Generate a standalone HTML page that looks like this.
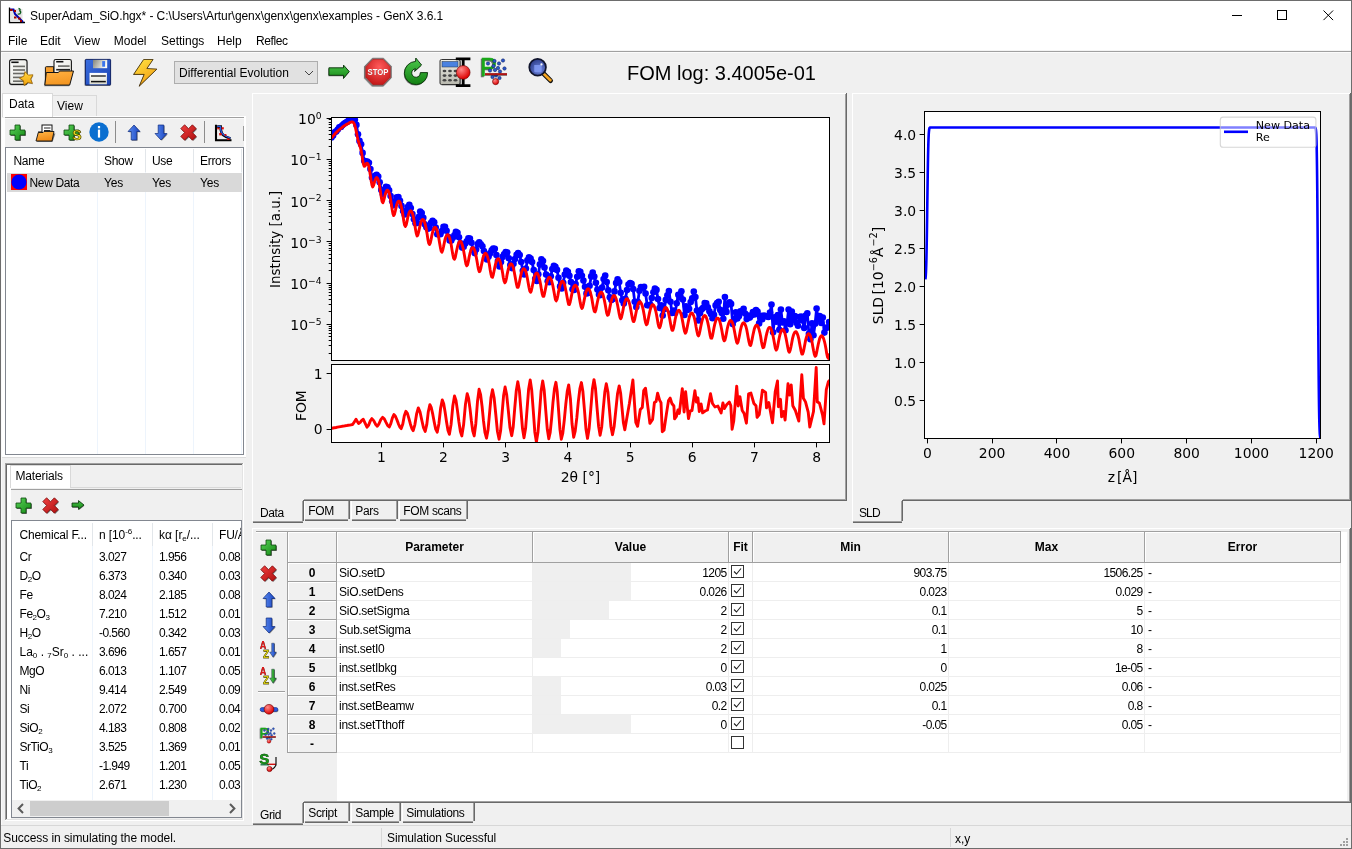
<!DOCTYPE html>
<html><head><meta charset="utf-8"><title>GenX</title><style>
html,body{margin:0;padding:0}
body{width:1352px;height:849px;overflow:hidden;background:#f0f0f0;position:relative;font-family:"Liberation Sans",sans-serif;font-size:12px;color:#000}
.t{position:absolute;white-space:pre}
.b{font-weight:bold}
.r{text-align:right}
.c{text-align:center}
.plot,.ic{position:absolute}
svg{overflow:visible}

sub{font-size:8px;position:relative;top:2px;vertical-align:baseline;line-height:0}
sup{font-size:8px;position:relative;top:-1px;vertical-align:baseline;line-height:0}
sup{top:-5px}
</style></head><body>
<div class="" style="position:absolute;left:0px;top:0px;width:1352px;height:849px;background:#f0f0f0"></div>
<div class="" style="position:absolute;left:1px;top:1px;width:1350px;height:30px;background:#fff"></div>
<div class="" style="position:absolute;left:1px;top:31px;width:1350px;height:20px;background:#fff"></div>
<div class="" style="position:absolute;left:1px;top:50px;width:1350px;height:1px;background:#f4f4f4"></div>
<div class="" style="position:absolute;left:1px;top:51px;width:1350px;height:1px;background:#a0a0a0"></div>
<div class="" style="position:absolute;left:1px;top:52px;width:1350px;height:1px;background:#fbfbfb"></div>
<svg class="ic" style="left:7px;top:7px" width="20" height="17" viewBox="0 0 20 17"><path d="M2.5,0.5 V15.5 H18" fill="none" stroke="#000" stroke-width="1.3"/><rect x="3.5" y="2" width="12" height="13" fill="#e4e4e4"/><path d="M3,2.5 H6.5 L8,7 L16,15" fill="none" stroke="#0000b0" stroke-width="2"/><g fill="#a00000"><rect x="3" y="2" width="2.5" height="2"/><rect x="7" y="3" width="2" height="2"/><rect x="7" y="9.5" width="2.5" height="2"/><rect x="11" y="10.5" width="2.5" height="2"/><rect x="13" y="13" width="2" height="2"/></g><path d="M11.5,1.5 q2.5,0.5 1.2,2.3 q2,1 0.2,3 l-2.2,0.4" fill="none" stroke="#0a5a1a" stroke-width="1.3"/></svg>
<div class="t " style="left:30.0px;top:10.14px;font-size:12px;line-height:12px;letter-spacing:-0.07px">SuperAdam_SiO.hgx* - C:\Users\Artur\genx\genx\genx\examples - GenX 3.6.1</div>
<svg class="ic" style="left:1220px;top:1px" width="131" height="30" viewBox="1220 1 131 30"><g stroke="#000" stroke-width="1" fill="none"><path d="M1232,15.5h10"/><rect x="1277.5" y="10.5" width="9" height="9"/><path d="M1323.5,10.5l9.6,9.6M1333.1,10.5l-9.6,9.6"/></g></svg>
<div class="t " style="left:8.0px;top:35.14px;font-size:12px;line-height:12px;">File</div>
<div class="t " style="left:40.0px;top:35.14px;font-size:12px;line-height:12px;">Edit</div>
<div class="t " style="left:74.0px;top:35.14px;font-size:12px;line-height:12px;">View</div>
<div class="t " style="left:113.8px;top:35.14px;font-size:12px;line-height:12px;">Model</div>
<div class="t " style="left:161.0px;top:35.14px;font-size:12px;line-height:12px;">Settings</div>
<div class="t " style="left:217.0px;top:35.14px;font-size:12px;line-height:12px;">Help</div>
<div class="t " style="left:256.0px;top:35.14px;font-size:12px;line-height:12px;letter-spacing:-0.4px">Reflec</div>
<svg class="ic" style="left:8px;top:58px" width="28" height="30" viewBox="0 0 28 30"><defs><linearGradient id="g1" x1="0" y1="0" x2="1" y2="1"><stop offset="0" stop-color="#ffffff"/><stop offset="1" stop-color="#dfe0d8"/></linearGradient><linearGradient id="g2" x1="0" y1="0" x2="0" y2="1"><stop offset="0" stop-color="#ffd640"/><stop offset="1" stop-color="#f2a20c"/></linearGradient></defs><rect x="1.2" y="2" width="18.4" height="25.6" rx="2.4" fill="#000" opacity="0.28"/><rect x="1.6" y="1.6" width="17.4" height="24.8" rx="2.2" fill="url(#g1)" stroke="#161616" stroke-width="1.1"/><path d="M3.3,4.3 H10.6" stroke="#111" stroke-width="1.6"/><path d="M5,8.4 H17" stroke="#6a6a66" stroke-width="1.6"/><path d="M5,12 H17" stroke="#6a6a66" stroke-width="1.6"/><path d="M5,15.5 H17" stroke="#6a6a66" stroke-width="1.6"/><path d="M5,19.4 H17" stroke="#6a6a66" stroke-width="1.6"/><path d="M5,23.2 H17" stroke="#6a6a66" stroke-width="1.6"/><polygon points="17.03,13.62 20.26,17.08 24.99,16.83 22.69,20.97 24.39,25.39 19.74,24.48 16.07,27.47 15.49,22.77 11.52,20.19 15.81,18.19" fill="#000" opacity="0.35" transform="translate(0.5,0.9)"/><polygon points="17.03,13.62 20.26,17.08 24.99,16.83 22.69,20.97 24.39,25.39 19.74,24.48 16.07,27.47 15.49,22.77 11.52,20.19 15.81,18.19" fill="url(#g2)" stroke="#9a6200" stroke-width="0.8" stroke-linejoin="round"/></svg>
<svg class="ic" style="left:43px;top:58px" width="33" height="30" viewBox="0 0 33 30"><defs><linearGradient id="g3" x1="0.3" y1="0" x2="0.6" y2="1"><stop offset="0" stop-color="#ffb040"/><stop offset="1" stop-color="#f29420"/></linearGradient><linearGradient id="g4" x1="0" y1="0" x2="1" y2="1"><stop offset="0" stop-color="#ffffff"/><stop offset="1" stop-color="#e6e6de"/></linearGradient><linearGradient id="g5" x1="0" y1="0" x2="0" y2="1"><stop offset="0" stop-color="#f8a030"/><stop offset="1" stop-color="#e88a18"/></linearGradient></defs><path d="M1.8,27.1 L3.3,14.5 H15.4 L16.6,13 H30.5 L26.7,27.1 z" fill="#000" opacity="0.4" transform="translate(-0.6,1.1)"/><path d="M2.4,26 V9.6 Q2.4,8.7 3.3,8.7 H10.7 V16 z" fill="url(#g5)" stroke="#141414" stroke-width="1"/><rect x="11" y="1.5" width="17.4" height="14" rx="1.8" fill="url(#g4)" stroke="#161616" stroke-width="1.1"/><path d="M13.2,3.7 H20.4" stroke="#111" stroke-width="1.6"/><path d="M15,8.1 H26.6" stroke="#6a6a66" stroke-width="1.6"/><path d="M13.2,11.7 H27" stroke="#222" stroke-width="1.6"/><path d="M1.8,27.1 L3.3,14.5 H15.4 L16.6,13 H30.5 L26.7,27.1 z" fill="url(#g3)" stroke="#141414" stroke-width="1" stroke-linejoin="round"/></svg>
<svg class="ic" style="left:84px;top:58px" width="29" height="29" viewBox="0 0 29 29"><defs><linearGradient id="g6" x1="0" y1="0" x2="1" y2="1"><stop offset="0" stop-color="#3a6ee0"/><stop offset="1" stop-color="#1c44b4"/></linearGradient><linearGradient id="g7" x1="0" y1="0" x2="1" y2="0.3"><stop offset="0" stop-color="#84847a"/><stop offset="1" stop-color="#fafaf6"/></linearGradient><linearGradient id="g8" x1="0" y1="0" x2="0" y2="1"><stop offset="0" stop-color="#ffffff"/><stop offset="1" stop-color="#dcdcd0"/></linearGradient></defs><rect x="0.6" y="1.6" width="26" height="26.4" rx="0.8" fill="#000" opacity="0.45"/><rect x="1.4" y="1.4" width="25.2" height="25.6" rx="0.7" fill="url(#g6)" stroke="#0a1c5c" stroke-width="0.9"/><rect x="9" y="1.9" width="14.2" height="8.3" fill="url(#g7)"/><rect x="18.2" y="3.1" width="2.9" height="5.6" fill="#3a74ec"/><rect x="5.5" y="14.9" width="17.4" height="11.4" fill="url(#g8)"/><path d="M7,18 H21.8" stroke="#333" stroke-width="1.5"/><path d="M7,23.6 H21.8" stroke="#111" stroke-width="1.5"/></svg>
<svg class="ic" style="left:131px;top:58px" width="28" height="30" viewBox="0 0 28 30"><defs><linearGradient id="g9" x1="0.2" y1="0" x2="0.7" y2="1"><stop offset="0" stop-color="#ffe040"/><stop offset="1" stop-color="#f29a10"/></linearGradient></defs><path d="M12.6,1.5 H22.1 L15.9,10.5 L25.9,11.1 L8.2,28.2 L13.2,16.4 H2.6 z" fill="#000" opacity="0.5" transform="translate(-0.5,0.7)"/><path d="M12.6,1.5 H22.1 L15.9,10.5 L25.9,11.1 L8.2,28.2 L13.2,16.4 H2.6 z" fill="url(#g9)" stroke="#3a2600" stroke-width="0.8" stroke-linejoin="round"/></svg>
<div class="" style="position:absolute;left:174px;top:61px;width:144px;height:23px;background:#e1e1e1;border:1px solid #adadad;box-sizing:border-box"></div>
<div class="t " style="left:179.0px;top:67.14px;font-size:12px;line-height:12px;">Differential Evolution</div>
<svg class="ic" style="left:302px;top:67px" width="14" height="12" viewBox="0 0 14 12"><path d="M3,4 L7,8 L11,4" fill="none" stroke="#444" stroke-width="1"/></svg>
<svg class="ic" style="left:327px;top:62px" width="25" height="20" viewBox="0 0 25 20"><defs><linearGradient id="g10" x1="0" y1="0" x2="0" y2="1"><stop offset="0" stop-color="#44c044"/><stop offset="1" stop-color="#1a8a1a"/></linearGradient></defs><g transform="scale(1)"><path d="M1.9,5.8 H16.5 V3.1 L22.3,9.6 L16.5,16.4 V13.3 H1.9 z" fill="#000" opacity="0.5" transform="translate(-0.5,0.9)"/><path d="M1.9,5.8 H16.5 V3.1 L22.3,9.6 L16.5,16.4 V13.3 H1.9 z" fill="url(#g10)" stroke="#0a300a" stroke-width="0.9" stroke-linejoin="round"/></g></svg>
<svg class="ic" style="left:361.7px;top:56.1px" width="32" height="32" viewBox="0 0 32 32"><defs><radialGradient id="g11" cx="0.55" cy="0.3" r="0.75"><stop offset="0" stop-color="#ff5a5a"/><stop offset="1" stop-color="#c01414"/></radialGradient></defs><g transform="translate(16,16)"><polygon points="-5.63,-14.00 5.63,-14.00 13.60,-5.80 13.60,5.80 5.63,14.00 -5.63,14.00 -13.60,5.80 -13.60,-5.80" fill="#000" opacity="0.35" transform="translate(-0.5,0.8)"/><polygon points="-5.55,-13.80 5.55,-13.80 13.40,-5.71 13.40,5.71 5.55,13.80 -5.55,13.80 -13.40,5.71 -13.40,-5.71" fill="#8c8c8c" stroke="#5a5a5a" stroke-width="0.6"/><polygon points="-5.09,-12.70 5.09,-12.70 12.30,-5.26 12.30,5.26 5.09,12.70 -5.09,12.70 -12.30,5.26 -12.30,-5.26" fill="url(#g11)" stroke="#a01010" stroke-width="0.5"/><text x="0" y="3.4" text-anchor="middle" font-family="Liberation Sans, sans-serif" font-weight="bold" font-size="9.8" fill="#fff" textLength="21" lengthAdjust="spacingAndGlyphs" style="filter:drop-shadow(0.7px 0.6px 0 rgba(64,0,0,.6))">STOP</text></g></svg>
<svg class="ic" style="left:398.8px;top:56.1px" width="34" height="34" viewBox="0 0 34 34"><defs><linearGradient id="g12" x1="0" y1="0" x2="0" y2="1"><stop offset="0" stop-color="#4cc84c"/><stop offset="1" stop-color="#128012"/></linearGradient></defs><g transform="translate(17,17)"><path d="M11.6,-0.4 A11.6,11.6 0 1 1 -0.4,-11.59 L-0.2,-15 L5.6,-8 L-1.4,-1.6 L-0.5,-4.3 A4.3,4.3 0 1 0 4.3,-0.4 Z" fill="#000" opacity="0.5" transform="translate(-0.6,0.9)"/><path d="M11.6,-0.4 A11.6,11.6 0 1 1 -0.4,-11.59 L-0.2,-15 L5.6,-8 L-1.4,-1.6 L-0.5,-4.3 A4.3,4.3 0 1 0 4.3,-0.4 Z" fill="url(#g12)" stroke="#0a300a" stroke-width="0.9" stroke-linejoin="round"/></g></svg>
<svg class="ic" style="left:439px;top:56px" width="34" height="33" viewBox="0 0 34 33"><defs><radialGradient id="g13" cx="0.36" cy="0.3" r="0.7"><stop offset="0" stop-color="#ff8a8a"/><stop offset="1" stop-color="#dc0000"/></radialGradient><linearGradient id="g14" x1="0" y1="0" x2="0" y2="1"><stop offset="0" stop-color="#eeeee6"/><stop offset="1" stop-color="#b8b8ae"/></linearGradient></defs><rect x="2" y="4.5" width="20" height="25" rx="1.5" fill="#000" opacity="0.4"/><rect x="1" y="3.5" width="20" height="25" rx="1.5" fill="url(#g14)" stroke="#333" stroke-width="1"/><rect x="3" y="5.5" width="16" height="5.5" fill="#4a82e0" stroke="#234" stroke-width="0.5"/><ellipse cx="5.5" cy="15" rx="1.9" ry="1.3" fill="#444"/><ellipse cx="11" cy="15" rx="1.9" ry="1.3" fill="#444"/><ellipse cx="16.5" cy="15" rx="1.9" ry="1.3" fill="#444"/><ellipse cx="5.5" cy="19.6" rx="1.9" ry="1.3" fill="#444"/><ellipse cx="11" cy="19.6" rx="1.9" ry="1.3" fill="#444"/><ellipse cx="16.5" cy="19.6" rx="1.9" ry="1.3" fill="#444"/><ellipse cx="5.5" cy="24.2" rx="1.9" ry="1.3" fill="#444"/><ellipse cx="11" cy="24.2" rx="1.9" ry="1.3" fill="#444"/><ellipse cx="16.5" cy="24.2" rx="1.9" ry="1.3" fill="#444"/><path d="M16.8,2.8 H31.4 M16.8,29.6 H31.4 M24.2,2.8 V29.6" stroke="#000" stroke-width="2.8"/><circle cx="24.2" cy="16.4" r="6.9" fill="url(#g13)" stroke="#600" stroke-width="0.6"/></svg>
<svg class="ic" style="left:479px;top:56px" width="32" height="33" viewBox="0 0 32 33"><defs><radialGradient id="g15" cx="0.36" cy="0.3" r="0.7"><stop offset="0" stop-color="#ff8a8a"/><stop offset="1" stop-color="#dc0000"/></radialGradient></defs><g transform="scale(1)"><text x="0.9" y="19.6" font-family="Liberation Sans, sans-serif" font-size="25.5" fill="#1aa81a" stroke="#1aa81a" stroke-width="0.55" style="filter:drop-shadow(-0.9px 1px 0 rgba(0,0,0,.55))">P</text><circle cx="15.5" cy="5" r="1.7" fill="#2a56c8" stroke="#0c1c58" stroke-width="0.5"/><circle cx="20" cy="7.5" r="1.7" fill="#2a56c8" stroke="#0c1c58" stroke-width="0.5"/><circle cx="24" cy="4.5" r="1.7" fill="#2a56c8" stroke="#0c1c58" stroke-width="0.5"/><circle cx="9" cy="7.5" r="1.7" fill="#2a56c8" stroke="#0c1c58" stroke-width="0.5"/><circle cx="14.5" cy="10" r="1.7" fill="#2a56c8" stroke="#0c1c58" stroke-width="0.5"/><circle cx="19" cy="12" r="1.7" fill="#2a56c8" stroke="#0c1c58" stroke-width="0.5"/><circle cx="25.5" cy="12.5" r="1.7" fill="#2a56c8" stroke="#0c1c58" stroke-width="0.5"/><circle cx="11" cy="14.5" r="1.7" fill="#2a56c8" stroke="#0c1c58" stroke-width="0.5"/><circle cx="16" cy="14" r="1.7" fill="#2a56c8" stroke="#0c1c58" stroke-width="0.5"/><circle cx="21" cy="15.5" r="1.7" fill="#2a56c8" stroke="#0c1c58" stroke-width="0.5"/><circle cx="13.5" cy="21" r="1.7" fill="#2a56c8" stroke="#0c1c58" stroke-width="0.5"/><circle cx="20.5" cy="22" r="1.7" fill="#2a56c8" stroke="#0c1c58" stroke-width="0.5"/><circle cx="17" cy="19.5" r="1.7" fill="#2a56c8" stroke="#0c1c58" stroke-width="0.5"/><path d="M6,18.4 H28" stroke="#300" stroke-width="2.2"/><path d="M6,18.1 H28" stroke="#e01818" stroke-width="1.3"/><circle cx="16.6" cy="25.6" r="3.1" fill="url(#g15)" stroke="#600" stroke-width="0.6"/></g></svg>
<svg class="ic" style="left:526.3px;top:56.2px" width="27.52" height="27.52" viewBox="0 0 32 32"><defs><radialGradient id="g16" cx="0.6" cy="0.65" r="0.8"><stop offset="0" stop-color="#7088e0"/><stop offset="1" stop-color="#1e2c78"/></radialGradient></defs><path d="M19.5,19.5 L28.6,28.6" stroke="#111" stroke-width="5.6" stroke-linecap="round"/><path d="M20.5,20.5 L28.3,28.3" stroke="#f4a420" stroke-width="3.2" stroke-linecap="round"/><circle cx="13.5" cy="13" r="9.7" fill="url(#g16)" stroke="#10142c" stroke-width="2"/><path d="M9.6,10.6 h7.4 q1.2,0 1.2,1.2 v5.8 q0,1.2 -1.2,1.2 h-6.2 q-1.2,0 -1.2,-1.2 z" fill="#7f98f2" opacity="0.9"/><circle cx="18" cy="9.8" r="1.3" fill="#fff" opacity="0.95"/></svg>
<div class="t " style="left:627.0px;top:63.27px;font-size:20px;line-height:20px;">FOM log: 3.4005e-01</div>
<div class="" style="position:absolute;left:5px;top:116px;width:241px;height:1px;background:#fff"></div>
<div class="" style="position:absolute;left:5px;top:117px;width:239px;height:1px;background:#a0a0a0"></div>
<div class="" style="position:absolute;left:5px;top:118px;width:239px;height:1px;background:#fafafa"></div>
<div class="" style="position:absolute;left:244px;top:116px;width:2px;height:341px;background:#fff"></div>
<div class="" style="position:absolute;left:1px;top:455px;width:245px;height:2px;background:#fff"></div>
<div class="" style="position:absolute;left:1px;top:118px;width:4px;height:339px;background:#fff"></div>
<div class="" style="position:absolute;left:1px;top:457px;width:245px;height:1px;background:#dcdcdc"></div>
<div class="" style="position:absolute;left:1px;top:52px;width:1px;height:774px;background:#fafafa"></div>
<div class="" style="position:absolute;left:52px;top:95px;width:45px;height:21px;background:#f0f0f0;border:1px solid #d9d9d9;box-sizing:border-box;border-bottom:none"></div>
<div class="" style="position:absolute;left:2px;top:93px;width:51px;height:24px;background:#fff;border:1px solid #d9d9d9;border-bottom:none;box-sizing:border-box"></div>
<div class="t " style="left:9.0px;top:98.04px;font-size:12px;line-height:12px;">Data</div>
<div class="t " style="left:57.0px;top:99.54px;font-size:12px;line-height:12px;">View</div>
<svg class="ic" style="left:9px;top:124px" width="18" height="18" viewBox="0 0 18 18"><defs><linearGradient id="g17" x1="0" y1="0" x2="1" y2="1"><stop offset="0" stop-color="#58d058"/><stop offset="1" stop-color="#158a15"/></linearGradient></defs><path d="M6,1 H11 V6 H16 V11 H11 V16 H6 V11 H1 V6 H6 z" fill="#000" opacity="0.55" transform="translate(0.9,1)"/><path d="M6,1 H11 V6 H16 V11 H11 V16 H6 V11 H1 V6 H6 z" fill="url(#g17)" stroke="#0c4a0c" stroke-width="0.8" stroke-linejoin="round"/></svg>
<svg class="ic" style="left:35px;top:124px" width="21" height="19" viewBox="0 0 21 19"><defs><linearGradient id="g18" x1="0" y1="0" x2="0.3" y2="1"><stop offset="0" stop-color="#ffb648"/><stop offset="1" stop-color="#f08c18"/></linearGradient></defs><path d="M1.5,17.5 H17 L19.8,9 H7 V6.5 H2.5 z" fill="#000" opacity="0.5" transform="translate(0.6,0.6)"/><rect x="7" y="1" width="10" height="8" fill="#fff" stroke="#111" stroke-width="1"/><path d="M9,4 H15.5 M9,6.5 H15.5" stroke="#222" stroke-width="1"/><path d="M1,17 L3.3,8.5 H8 L9,7.5 H19 L17,17 z" fill="url(#g18)" stroke="#111" stroke-width="0.9" stroke-linejoin="round"/></svg>
<svg class="ic" style="left:63px;top:124px" width="19" height="18" viewBox="0 0 19 18"><defs><linearGradient id="g19" x1="0" y1="0" x2="1" y2="1"><stop offset="0" stop-color="#58d058"/><stop offset="1" stop-color="#158a15"/></linearGradient></defs><path d="M6,1 H11 V6 H16 V11 H11 V16 H6 V11 H1 V6 H6 z" fill="#000" opacity="0.55" transform="translate(0.9,1)"/><path d="M6,1 H11 V6 H16 V11 H11 V16 H6 V11 H1 V6 H6 z" fill="url(#g19)" stroke="#0c4a0c" stroke-width="0.8" stroke-linejoin="round"/><text x="9.3" y="15.8" font-family="Liberation Sans, sans-serif" font-weight="bold" font-size="14" fill="#f8e820" stroke="#4a4000" stroke-width="0.7">S</text></svg>
<svg class="ic" style="left:89px;top:122px" width="20" height="20" viewBox="0 0 20 20"><circle cx="10" cy="10" r="9.7" fill="#0b6fd0"/><rect x="8.9" y="7.6" width="2.2" height="8" fill="#fff"/><rect x="8.9" y="4" width="2.2" height="2.3" fill="#fff"/></svg>
<div class="" style="position:absolute;left:115px;top:121px;width:1px;height:22px;background:#8c8c8c"></div>
<svg class="ic" style="left:125px;top:124px" width="18" height="18" viewBox="0 0 18 18"><defs><linearGradient id="g20" x1="0" y1="0" x2="1" y2="0"><stop offset="0" stop-color="#5a8cf0"/><stop offset="1" stop-color="#1a44c0"/></linearGradient></defs><path d="M9,1 L15,7.5 H11.8 V16 H6.2 V7.5 H3 z" fill="#000" opacity="0.45" transform="translate(0.8,0.8)"/><path d="M9,1 L15,7.5 H11.8 V16 H6.2 V7.5 H3 z" fill="url(#g20)" stroke="#0c2a80" stroke-width="0.7" stroke-linejoin="round"/></svg>
<svg class="ic" style="left:152px;top:124px" width="18" height="18" viewBox="0 0 18 18"><defs><linearGradient id="g21" x1="0" y1="0" x2="1" y2="0"><stop offset="0" stop-color="#5a8cf0"/><stop offset="1" stop-color="#1a44c0"/></linearGradient></defs><path d="M9,16 L15,9.5 H11.8 V1 H6.2 V9.5 H3 z" fill="#000" opacity="0.45" transform="translate(0.8,0.8)"/><path d="M9,16 L15,9.5 H11.8 V1 H6.2 V9.5 H3 z" fill="url(#g21)" stroke="#0c2a80" stroke-width="0.7" stroke-linejoin="round"/></svg>
<svg class="ic" style="left:179.6px;top:124px" width="18" height="18" viewBox="0 0 18 18"><defs><linearGradient id="g22" x1="0" y1="0" x2="1" y2="1"><stop offset="0" stop-color="#f04040"/><stop offset="1" stop-color="#b01010"/></linearGradient></defs><path d="M4.6,0.8 L8.5,4.7 L12.4,0.8 L16.2,4.6 L12.3,8.5 L16.2,12.4 L12.4,16.2 L8.5,12.3 L4.6,16.2 L0.8,12.4 L4.7,8.5 L0.8,4.6 z" fill="#000" opacity="0.45" transform="translate(0.8,0.9)"/><path d="M4.6,0.8 L8.5,4.7 L12.4,0.8 L16.2,4.6 L12.3,8.5 L16.2,12.4 L12.4,16.2 L8.5,12.3 L4.6,16.2 L0.8,12.4 L4.7,8.5 L0.8,4.6 z" fill="url(#g22)" stroke="#7a0808" stroke-width="0.8" stroke-linejoin="round"/></svg>
<div class="" style="position:absolute;left:204px;top:121px;width:1px;height:22px;background:#8c8c8c"></div>
<svg class="ic" style="left:213px;top:123.3px" width="20" height="20" viewBox="0 0 20 20"><path d="M3,1.8 V17.2 H18.5" fill="none" stroke="#000" stroke-width="2.1"/><path d="M4.2,3.6 H7.6 Q7.6,10 10.5,12.2 T17.5,15.6" fill="none" stroke="#000" stroke-width="2.6"/><path d="M4.2,3.4 H7.4 Q7.6,9.6 10.6,11.8 T17.5,15.2" fill="none" stroke="#2a5ae0" stroke-width="1.4"/><g fill="#e01010"><rect x="4.2" y="4.6" width="2.2" height="1.8"/><rect x="8.6" y="4.2" width="2.2" height="2.2"/><rect x="6.2" y="10" width="2.4" height="2.4"/><rect x="11.6" y="11" width="1.8" height="1.8"/><rect x="14" y="15.4" width="2.6" height="1.6"/></g></svg>
<div class="" style="position:absolute;left:243px;top:126px;width:1px;height:15px;background:#9a9a9a"></div>
<div class="" style="position:absolute;left:5px;top:147px;width:239px;height:308px;background:#fff;border:1px solid #828790;box-sizing:border-box"></div>
<div class="" style="position:absolute;left:97px;top:149px;width:1px;height:305px;background:#edf4fc"></div>
<div class="" style="position:absolute;left:97px;top:149px;width:1px;height:23px;background:#e2e6ea"></div>
<div class="" style="position:absolute;left:145px;top:149px;width:1px;height:305px;background:#edf4fc"></div>
<div class="" style="position:absolute;left:145px;top:149px;width:1px;height:23px;background:#e2e6ea"></div>
<div class="" style="position:absolute;left:193px;top:149px;width:1px;height:305px;background:#edf4fc"></div>
<div class="" style="position:absolute;left:193px;top:149px;width:1px;height:23px;background:#e2e6ea"></div>
<div class="" style="position:absolute;left:241px;top:149px;width:1px;height:305px;background:#edf4fc"></div>
<div class="" style="position:absolute;left:241px;top:149px;width:1px;height:23px;background:#e2e6ea"></div>
<div class="" style="position:absolute;left:7px;top:173px;width:235px;height:19px;background:#d9d9d9"></div>
<div class="t " style="left:13.5px;top:154.64px;font-size:12px;line-height:12px;letter-spacing:-0.3px">Name</div>
<div class="t " style="left:104.0px;top:154.64px;font-size:12px;line-height:12px;letter-spacing:-0.3px">Show</div>
<div class="t " style="left:152.0px;top:154.64px;font-size:12px;line-height:12px;letter-spacing:-0.3px">Use</div>
<div class="t " style="left:200.0px;top:154.64px;font-size:12px;line-height:12px;letter-spacing:-0.3px">Errors</div>
<svg class="ic" style="left:11px;top:174px" width="16" height="16"><rect width="16" height="16" fill="#f00"/><circle cx="8" cy="8" r="7.6" fill="#00f"/></svg>
<div class="t " style="left:29.5px;top:177.24px;font-size:12px;line-height:12px;letter-spacing:-0.35px">New Data</div>
<div class="t " style="left:104.0px;top:177.24px;font-size:12px;line-height:12px;letter-spacing:-0.2px">Yes</div>
<div class="t " style="left:152.0px;top:177.24px;font-size:12px;line-height:12px;letter-spacing:-0.2px">Yes</div>
<div class="t " style="left:200.0px;top:177.24px;font-size:12px;line-height:12px;letter-spacing:-0.2px">Yes</div>
<div class="" style="position:absolute;left:5px;top:463px;width:239px;height:1px;background:#a0a0a0"></div>
<div class="" style="position:absolute;left:5px;top:464px;width:1px;height:357px;background:#a0a0a0"></div>
<div class="" style="position:absolute;left:6px;top:464px;width:237px;height:1px;background:#696969"></div>
<div class="" style="position:absolute;left:6px;top:465px;width:1px;height:355px;background:#696969"></div>
<div class="" style="position:absolute;left:243px;top:463px;width:1px;height:358px;background:#fff"></div>
<div class="" style="position:absolute;left:5px;top:820px;width:239px;height:1px;background:#fff"></div>
<div class="" style="position:absolute;left:242px;top:464px;width:1px;height:356px;background:#e3e3e3"></div>
<div class="" style="position:absolute;left:6px;top:819px;width:237px;height:1px;background:#e3e3e3"></div>
<div class="" style="position:absolute;left:7px;top:465px;width:4px;height:354px;background:#fff"></div>
<div class="" style="position:absolute;left:70px;top:487px;width:171px;height:1px;background:#d9d9d9"></div>
<div class="" style="position:absolute;left:10px;top:465px;width:61px;height:23px;background:#fff;border:1px solid #d9d9d9;border-bottom:none;box-sizing:border-box"></div>
<div class="t " style="left:15.5px;top:470.04px;font-size:12px;line-height:12px;letter-spacing:-0.15px">Materials</div>
<div class="" style="position:absolute;left:11px;top:489px;width:231px;height:1px;background:#a0a0a0"></div>
<svg class="ic" style="left:15px;top:497px" width="18" height="18" viewBox="0 0 18 18"><defs><linearGradient id="g23" x1="0" y1="0" x2="1" y2="1"><stop offset="0" stop-color="#58d058"/><stop offset="1" stop-color="#158a15"/></linearGradient></defs><path d="M6,1 H11 V6 H16 V11 H11 V16 H6 V11 H1 V6 H6 z" fill="#000" opacity="0.55" transform="translate(0.9,1)"/><path d="M6,1 H11 V6 H16 V11 H11 V16 H6 V11 H1 V6 H6 z" fill="url(#g23)" stroke="#0c4a0c" stroke-width="0.8" stroke-linejoin="round"/></svg>
<svg class="ic" style="left:42px;top:497px" width="18" height="18" viewBox="0 0 18 18"><defs><linearGradient id="g24" x1="0" y1="0" x2="1" y2="1"><stop offset="0" stop-color="#f04040"/><stop offset="1" stop-color="#b01010"/></linearGradient></defs><path d="M4.6,0.8 L8.5,4.7 L12.4,0.8 L16.2,4.6 L12.3,8.5 L16.2,12.4 L12.4,16.2 L8.5,12.3 L4.6,16.2 L0.8,12.4 L4.7,8.5 L0.8,4.6 z" fill="#000" opacity="0.45" transform="translate(0.8,0.9)"/><path d="M4.6,0.8 L8.5,4.7 L12.4,0.8 L16.2,4.6 L12.3,8.5 L16.2,12.4 L12.4,16.2 L8.5,12.3 L4.6,16.2 L0.8,12.4 L4.7,8.5 L0.8,4.6 z" fill="url(#g24)" stroke="#7a0808" stroke-width="0.8" stroke-linejoin="round"/></svg>
<svg class="ic" style="left:71px;top:499px" width="15" height="13" viewBox="0 0 15 13"><defs><linearGradient id="g25" x1="0" y1="0" x2="0" y2="1"><stop offset="0" stop-color="#44c044"/><stop offset="1" stop-color="#1a8a1a"/></linearGradient></defs><path d="M1,4 H7.5 V1.6 L13,6 L7.5,10.4 V8 H1 z" fill="#000" opacity="0.45" transform="translate(0.5,0.7)"/><path d="M1,4 H7.5 V1.6 L13,6 L7.5,10.4 V8 H1 z" fill="url(#g25)" stroke="#0a300a" stroke-width="0.8" stroke-linejoin="round"/></svg>
<div class="" style="position:absolute;left:11px;top:520px;width:231px;height:298px;background:#fff;border:1px solid #828790;box-sizing:border-box"></div>
<div class="" style="position:absolute;left:92px;top:523px;width:1px;height:277px;background:#edf4fc"></div>
<div class="" style="position:absolute;left:92px;top:523px;width:1px;height:23px;background:#e2e6ea"></div>
<div class="" style="position:absolute;left:152px;top:523px;width:1px;height:277px;background:#edf4fc"></div>
<div class="" style="position:absolute;left:152px;top:523px;width:1px;height:23px;background:#e2e6ea"></div>
<div class="" style="position:absolute;left:212px;top:523px;width:1px;height:277px;background:#edf4fc"></div>
<div class="" style="position:absolute;left:212px;top:523px;width:1px;height:23px;background:#e2e6ea"></div>
<div style="position:absolute;left:12px;top:521px;width:229px;height:296px;overflow:hidden">
<div class="t " style="left:7.5px;top:8.14px;font-size:12px;line-height:12px;letter-spacing:-0.15px">Chemical F...</div>
<div class="t " style="left:87.0px;top:8.14px;font-size:12px;line-height:12px;letter-spacing:-0.1px">n [10<sup>-6</sup>...</div>
<div class="t " style="left:147.0px;top:8.14px;font-size:12px;line-height:12px;letter-spacing:-0.05px">kα [r<sub>e</sub>/...</div>
<div class="t " style="left:207.0px;top:8.14px;font-size:12px;line-height:12px;letter-spacing:-0.2px">FU/Å</div>
<div class="t " style="left:7.5px;top:30.14px;font-size:12px;line-height:12px;letter-spacing:-0.45px">Cr</div>
<div class="t " style="left:87.0px;top:30.14px;font-size:12px;line-height:12px;letter-spacing:-0.55px">3.027</div>
<div class="t " style="left:147.0px;top:30.14px;font-size:12px;line-height:12px;letter-spacing:-0.55px">1.956</div>
<div class="t " style="left:207.0px;top:30.14px;font-size:12px;line-height:12px;letter-spacing:-0.55px">0.08</div>
<div class="t " style="left:7.5px;top:49.14px;font-size:12px;line-height:12px;letter-spacing:-0.45px">D<sub>2</sub>O</div>
<div class="t " style="left:87.0px;top:49.14px;font-size:12px;line-height:12px;letter-spacing:-0.55px">6.373</div>
<div class="t " style="left:147.0px;top:49.14px;font-size:12px;line-height:12px;letter-spacing:-0.55px">0.340</div>
<div class="t " style="left:207.0px;top:49.14px;font-size:12px;line-height:12px;letter-spacing:-0.55px">0.03</div>
<div class="t " style="left:7.5px;top:68.14px;font-size:12px;line-height:12px;letter-spacing:-0.45px">Fe</div>
<div class="t " style="left:87.0px;top:68.14px;font-size:12px;line-height:12px;letter-spacing:-0.55px">8.024</div>
<div class="t " style="left:147.0px;top:68.14px;font-size:12px;line-height:12px;letter-spacing:-0.55px">2.185</div>
<div class="t " style="left:207.0px;top:68.14px;font-size:12px;line-height:12px;letter-spacing:-0.55px">0.08</div>
<div class="t " style="left:7.5px;top:87.14px;font-size:12px;line-height:12px;letter-spacing:-0.45px">Fe<sub>2</sub>O<sub>3</sub></div>
<div class="t " style="left:87.0px;top:87.14px;font-size:12px;line-height:12px;letter-spacing:-0.55px">7.210</div>
<div class="t " style="left:147.0px;top:87.14px;font-size:12px;line-height:12px;letter-spacing:-0.55px">1.512</div>
<div class="t " style="left:207.0px;top:87.14px;font-size:12px;line-height:12px;letter-spacing:-0.55px">0.01</div>
<div class="t " style="left:7.5px;top:106.14px;font-size:12px;line-height:12px;letter-spacing:-0.45px">H<sub>2</sub>O</div>
<div class="t " style="left:87.0px;top:106.14px;font-size:12px;line-height:12px;letter-spacing:-0.55px">-0.560</div>
<div class="t " style="left:147.0px;top:106.14px;font-size:12px;line-height:12px;letter-spacing:-0.55px">0.342</div>
<div class="t " style="left:207.0px;top:106.14px;font-size:12px;line-height:12px;letter-spacing:-0.55px">0.03</div>
<div class="t " style="left:7.5px;top:125.14px;font-size:12px;line-height:12px;letter-spacing:0px">La<sub>0</sub> . <sub>7</sub>Sr<sub>0</sub> . ...</div>
<div class="t " style="left:87.0px;top:125.14px;font-size:12px;line-height:12px;letter-spacing:-0.55px">3.696</div>
<div class="t " style="left:147.0px;top:125.14px;font-size:12px;line-height:12px;letter-spacing:-0.55px">1.657</div>
<div class="t " style="left:207.0px;top:125.14px;font-size:12px;line-height:12px;letter-spacing:-0.55px">0.01</div>
<div class="t " style="left:7.5px;top:144.14px;font-size:12px;line-height:12px;letter-spacing:-0.45px">MgO</div>
<div class="t " style="left:87.0px;top:144.14px;font-size:12px;line-height:12px;letter-spacing:-0.55px">6.013</div>
<div class="t " style="left:147.0px;top:144.14px;font-size:12px;line-height:12px;letter-spacing:-0.55px">1.107</div>
<div class="t " style="left:207.0px;top:144.14px;font-size:12px;line-height:12px;letter-spacing:-0.55px">0.05</div>
<div class="t " style="left:7.5px;top:163.14px;font-size:12px;line-height:12px;letter-spacing:-0.45px">Ni</div>
<div class="t " style="left:87.0px;top:163.14px;font-size:12px;line-height:12px;letter-spacing:-0.55px">9.414</div>
<div class="t " style="left:147.0px;top:163.14px;font-size:12px;line-height:12px;letter-spacing:-0.55px">2.549</div>
<div class="t " style="left:207.0px;top:163.14px;font-size:12px;line-height:12px;letter-spacing:-0.55px">0.09</div>
<div class="t " style="left:7.5px;top:182.14px;font-size:12px;line-height:12px;letter-spacing:-0.45px">Si</div>
<div class="t " style="left:87.0px;top:182.14px;font-size:12px;line-height:12px;letter-spacing:-0.55px">2.072</div>
<div class="t " style="left:147.0px;top:182.14px;font-size:12px;line-height:12px;letter-spacing:-0.55px">0.700</div>
<div class="t " style="left:207.0px;top:182.14px;font-size:12px;line-height:12px;letter-spacing:-0.55px">0.04</div>
<div class="t " style="left:7.5px;top:201.14px;font-size:12px;line-height:12px;letter-spacing:-0.45px">SiO<sub>2</sub></div>
<div class="t " style="left:87.0px;top:201.14px;font-size:12px;line-height:12px;letter-spacing:-0.55px">4.183</div>
<div class="t " style="left:147.0px;top:201.14px;font-size:12px;line-height:12px;letter-spacing:-0.55px">0.808</div>
<div class="t " style="left:207.0px;top:201.14px;font-size:12px;line-height:12px;letter-spacing:-0.55px">0.02</div>
<div class="t " style="left:7.5px;top:220.14px;font-size:12px;line-height:12px;letter-spacing:-0.45px">SrTiO<sub>3</sub></div>
<div class="t " style="left:87.0px;top:220.14px;font-size:12px;line-height:12px;letter-spacing:-0.55px">3.525</div>
<div class="t " style="left:147.0px;top:220.14px;font-size:12px;line-height:12px;letter-spacing:-0.55px">1.369</div>
<div class="t " style="left:207.0px;top:220.14px;font-size:12px;line-height:12px;letter-spacing:-0.55px">0.01</div>
<div class="t " style="left:7.5px;top:239.14px;font-size:12px;line-height:12px;letter-spacing:-0.45px">Ti</div>
<div class="t " style="left:87.0px;top:239.14px;font-size:12px;line-height:12px;letter-spacing:-0.55px">-1.949</div>
<div class="t " style="left:147.0px;top:239.14px;font-size:12px;line-height:12px;letter-spacing:-0.55px">1.201</div>
<div class="t " style="left:207.0px;top:239.14px;font-size:12px;line-height:12px;letter-spacing:-0.55px">0.05</div>
<div class="t " style="left:7.5px;top:258.14px;font-size:12px;line-height:12px;letter-spacing:-0.45px">TiO<sub>2</sub></div>
<div class="t " style="left:87.0px;top:258.14px;font-size:12px;line-height:12px;letter-spacing:-0.55px">2.671</div>
<div class="t " style="left:147.0px;top:258.14px;font-size:12px;line-height:12px;letter-spacing:-0.55px">1.230</div>
<div class="t " style="left:207.0px;top:258.14px;font-size:12px;line-height:12px;letter-spacing:-0.55px">0.03</div>
</div>
<div class="" style="position:absolute;left:12px;top:800px;width:229px;height:17px;background:#f0f0f0"></div>
<div class="" style="position:absolute;left:30px;top:801px;width:139px;height:15px;background:#cdcdcd"></div>
<svg class="ic" style="left:12px;top:800px" width="229" height="17"><g fill="none" stroke="#5a5a5a" stroke-width="2"><path d="M11,4 L6.6,8.5 L11,13"/><path d="M218,4 L222.4,8.5 L218,13"/></g></svg>
<div class="" style="position:absolute;left:252px;top:93px;width:595px;height:1px;background:#fff"></div><div class="" style="position:absolute;left:252px;top:93px;width:1px;height:408px;background:#fff"></div><div class="" style="position:absolute;left:253px;top:499px;width:594px;height:1px;background:#a0a0a0"></div><div class="" style="position:absolute;left:252px;top:500px;width:595px;height:1px;background:#696969"></div><div class="" style="position:absolute;left:845px;top:94px;width:1px;height:406px;background:#a0a0a0"></div><div class="" style="position:absolute;left:846px;top:93px;width:1px;height:408px;background:#696969"></div>
<div class="" style="position:absolute;left:252px;top:499px;width:52px;height:23px;background:#f0f0f0"></div><div class="" style="position:absolute;left:252px;top:499px;width:1px;height:22px;background:#fff"></div><div class="" style="position:absolute;left:253px;top:521px;width:50px;height:1px;background:#a0a0a0"></div><div class="" style="position:absolute;left:253px;top:522px;width:50px;height:1px;background:#696969"></div><div class="" style="position:absolute;left:302px;top:501px;width:1px;height:20px;background:#a0a0a0"></div><div class="" style="position:absolute;left:303px;top:500px;width:1px;height:21px;background:#696969"></div><div class="t " style="left:260.0px;top:507.14px;font-size:12px;line-height:12px;letter-spacing:-0.4px">Data</div>
<div class="" style="position:absolute;left:304px;top:501px;width:1px;height:18px;background:#fff"></div><div class="" style="position:absolute;left:305px;top:519px;width:43px;height:1px;background:#a0a0a0"></div><div class="" style="position:absolute;left:305px;top:520px;width:43px;height:1px;background:#696969"></div><div class="" style="position:absolute;left:348px;top:501px;width:1px;height:18px;background:#a0a0a0"></div><div class="" style="position:absolute;left:349px;top:501px;width:1px;height:18px;background:#696969"></div><div class="t " style="left:308.3px;top:504.84px;font-size:12px;line-height:12px;letter-spacing:-0.35px">FOM</div>
<div class="" style="position:absolute;left:351px;top:501px;width:1px;height:18px;background:#fff"></div><div class="" style="position:absolute;left:352px;top:519px;width:44px;height:1px;background:#a0a0a0"></div><div class="" style="position:absolute;left:352px;top:520px;width:44px;height:1px;background:#696969"></div><div class="" style="position:absolute;left:396px;top:501px;width:1px;height:18px;background:#a0a0a0"></div><div class="" style="position:absolute;left:397px;top:501px;width:1px;height:18px;background:#696969"></div><div class="t " style="left:355.3px;top:504.84px;font-size:12px;line-height:12px;letter-spacing:-0.35px">Pars</div>
<div class="" style="position:absolute;left:399px;top:501px;width:1px;height:18px;background:#fff"></div><div class="" style="position:absolute;left:400px;top:519px;width:66px;height:1px;background:#a0a0a0"></div><div class="" style="position:absolute;left:400px;top:520px;width:66px;height:1px;background:#696969"></div><div class="" style="position:absolute;left:466px;top:501px;width:1px;height:18px;background:#a0a0a0"></div><div class="" style="position:absolute;left:467px;top:501px;width:1px;height:18px;background:#696969"></div><div class="t " style="left:403.3px;top:504.84px;font-size:12px;line-height:12px;letter-spacing:-0.35px">FOM scans</div>
<svg class="plot" style="left:254px;top:94px" width="593" height="406" viewBox="254 94 593 406" font-family="DejaVu Sans, sans-serif" font-size="13.9">
<defs><clipPath id="c1"><rect x="331.5" y="117.5" width="498.0" height="243.0"/></clipPath><clipPath id="c2"><rect x="331.5" y="364.5" width="498.0" height="78.0"/></clipPath></defs>
<rect x="331.5" y="117.5" width="498.0" height="243.0" fill="#fff"/>
<rect x="331.5" y="364.5" width="498.0" height="78.0" fill="#fff"/>
<g clip-path="url(#c1)">
<path d="M331.5,137.4 L333.1,135.4 L334.7,132.2 L336.2,131.4 L337.8,129.5 L339.3,127.3 L340.9,126.9 L342.4,125.3 L344.0,123.7 L345.5,122.7 L347.1,121.9 L348.7,120.5 L350.2,119.5 L351.8,118.4 L353.3,119.0 L354.9,119.8 L356.4,124.9 L358.0,134.2 L359.5,140.9 L361.1,144.3 L362.6,152.9 L364.2,160.7 L365.8,161.6 L367.3,161.6 L368.9,162.8 L370.4,169.0 L372.0,177.5 L373.5,179.3 L375.1,175.8 L376.6,174.9 L378.2,176.5 L379.7,182.2 L381.3,189.9 L382.9,194.2 L384.4,190.4 L386.0,186.8 L387.5,187.2 L389.1,190.4 L390.6,196.0 L392.2,201.2 L393.7,205.2 L395.3,201.5 L396.8,197.2 L398.4,197.1 L400.0,200.7 L401.5,205.9 L403.1,211.0 L404.6,214.5 L406.2,212.0 L407.7,207.0 L409.3,204.8 L410.8,208.0 L412.4,214.0 L413.9,219.2 L415.5,223.3 L417.1,222.9 L418.6,217.1 L420.2,211.6 L421.7,213.0 L423.3,217.8 L424.8,224.2 L426.4,227.3 L427.9,228.8 L429.5,227.9 L431.1,222.9 L432.6,220.7 L434.2,222.2 L435.7,227.6 L437.3,234.2 L438.8,234.1 L440.4,234.3 L441.9,231.1 L443.5,226.9 L445.0,226.8 L446.6,230.8 L448.2,236.8 L449.7,240.5 L451.3,240.6 L452.8,237.7 L454.4,235.4 L455.9,231.8 L457.5,232.8 L459.0,237.2 L460.6,243.4 L462.1,247.6 L463.7,246.7 L465.3,243.6 L466.8,241.3 L468.4,238.3 L469.9,238.5 L471.5,242.8 L473.0,249.9 L474.6,253.1 L476.1,249.6 L477.7,244.0 L479.2,242.2 L480.8,244.2 L482.4,246.2 L483.9,251.1 L485.5,257.1 L487.0,259.4 L488.6,256.5 L490.1,253.4 L491.7,250.4 L493.2,248.5 L494.8,248.8 L496.4,255.1 L497.9,261.0 L499.5,266.5 L501.0,262.1 L502.6,256.9 L504.1,254.3 L505.7,252.0 L507.2,252.6 L508.8,258.2 L510.3,264.7 L511.9,268.1 L513.5,263.7 L515.0,259.0 L516.6,254.9 L518.1,253.0 L519.7,255.0 L521.2,262.0 L522.8,270.8 L524.3,274.5 L525.9,268.5 L527.4,260.4 L529.0,257.3 L530.6,258.5 L532.1,262.1 L533.7,270.1 L535.2,278.7 L536.8,281.0 L538.3,274.3 L539.9,264.4 L541.4,259.2 L543.0,261.1 L544.5,267.5 L546.1,274.5 L547.7,281.2 L549.2,282.2 L550.8,276.2 L552.3,269.0 L553.9,265.7 L555.4,266.9 L557.0,269.9 L558.5,277.7 L560.1,286.4 L561.7,288.5 L563.2,282.7 L564.8,274.5 L566.3,270.5 L567.9,271.9 L569.4,275.8 L571.0,282.0 L572.5,289.2 L574.1,290.0 L575.6,284.1 L577.2,276.8 L578.8,271.2 L580.3,271.9 L581.9,275.8 L583.4,280.6 L585.0,286.8 L586.5,293.4 L588.1,293.0 L589.6,285.8 L591.2,276.4 L592.7,272.6 L594.3,276.6 L595.9,282.8 L597.4,289.6 L599.0,294.5 L600.5,295.1 L602.1,287.6 L603.6,279.0 L605.2,275.5 L606.7,282.1 L608.3,290.3 L609.8,297.3 L611.4,300.0 L613.0,299.0 L614.5,291.4 L616.1,283.1 L617.6,279.2 L619.2,282.1 L620.7,292.7 L622.3,300.3 L623.8,303.4 L625.4,298.9 L627.0,290.0 L628.5,284.5 L630.1,283.0 L631.6,283.9 L633.2,289.1 L634.7,301.7 L636.3,306.9 L637.8,301.9 L639.4,290.7 L640.9,287.0 L642.5,288.3 L644.1,286.8 L645.6,293.6 L647.2,305.2 L648.7,305.3 L650.3,304.8 L651.8,298.0 L653.4,292.3 L654.9,288.5 L656.5,289.9 L658.0,299.1 L659.6,308.0 L661.2,305.4 L662.7,315.5 L664.3,309.3 L665.8,299.9 L667.4,295.2 L668.9,291.0 L670.5,301.7 L672.0,313.0 L673.6,310.5 L675.1,312.9 L676.7,303.3 L678.3,294.7 L679.8,297.4 L681.4,291.3 L682.9,299.5 L684.5,315.0 L686.0,306.2 L687.6,309.9 L689.1,308.7 L690.7,302.0 L692.2,298.4 L693.8,291.5 L695.4,297.0 L696.9,310.5 L698.5,320.4 L700.0,313.2 L701.6,309.4 L703.1,307.9 L704.7,303.1 L706.2,303.4 L707.8,307.3 L709.4,311.2 L710.9,314.1 L712.5,318.2 L714.0,314.8 L715.6,305.4 L717.1,303.1 L718.7,301.8 L720.2,309.9 L721.8,312.9 L723.3,318.8 L724.9,297.0 L726.5,311.9 L728.0,304.6 L729.6,302.2 L731.1,303.9 L732.7,324.1 L734.2,319.9 L735.8,312.3 L737.3,318.5 L738.9,316.2 L740.4,311.2 L742.0,312.0 L743.6,308.8 L745.1,313.6 L746.7,319.1 L748.2,315.5 L749.8,317.6 L751.3,315.6 L752.9,312.1 L754.4,314.5 L756.0,310.0 L757.5,311.6 L759.1,323.4 L760.7,315.8 L762.2,319.2 L763.8,315.6 L765.3,316.0 L766.9,316.2 L768.4,316.9 L770.0,312.6 L771.5,304.5 L773.1,332.3 L774.7,317.2 L776.2,321.8 L777.8,315.1 L779.3,329.7 L780.9,309.6 L782.4,322.5 L784.0,321.2 L785.5,330.3 L787.1,322.6 L788.6,309.5 L790.2,324.3 L791.8,311.5 L793.3,319.7 L794.9,316.0 L796.4,322.8 L798.0,325.8 L799.5,317.1 L801.1,316.5 L802.6,320.4 L804.2,327.9 L805.7,315.6 L807.3,313.4 L808.9,333.7 L810.4,339.2 L812.0,323.4 L813.5,335.2 L815.1,323.8 L816.6,308.5 L818.2,319.3 L819.7,316.1 L821.3,323.0 L822.8,317.5 L824.4,332.6 L826.0,328.0 L827.5,327.2 L829.1,322.0" fill="none" stroke="#0000ff" stroke-width="2.8" stroke-linejoin="round"/>
<g fill="#0000ff"><circle cx="331.5" cy="137.4" r="3.3"/><circle cx="333.1" cy="135.4" r="3.3"/><circle cx="334.7" cy="132.2" r="3.3"/><circle cx="336.2" cy="131.4" r="3.3"/><circle cx="337.8" cy="129.5" r="3.3"/><circle cx="339.3" cy="127.3" r="3.3"/><circle cx="340.9" cy="126.9" r="3.3"/><circle cx="342.4" cy="125.3" r="3.3"/><circle cx="344.0" cy="123.7" r="3.3"/><circle cx="345.5" cy="122.7" r="3.3"/><circle cx="347.1" cy="121.9" r="3.3"/><circle cx="348.7" cy="120.5" r="3.3"/><circle cx="350.2" cy="119.5" r="3.3"/><circle cx="351.8" cy="118.4" r="3.3"/><circle cx="353.3" cy="119.0" r="3.3"/><circle cx="354.9" cy="119.8" r="3.3"/><circle cx="356.4" cy="124.9" r="3.3"/><circle cx="358.0" cy="134.2" r="3.3"/><circle cx="359.5" cy="140.9" r="3.3"/><circle cx="361.1" cy="144.3" r="3.3"/><circle cx="362.6" cy="152.9" r="3.3"/><circle cx="364.2" cy="160.7" r="3.3"/><circle cx="365.8" cy="161.6" r="3.3"/><circle cx="367.3" cy="161.6" r="3.3"/><circle cx="368.9" cy="162.8" r="3.3"/><circle cx="370.4" cy="169.0" r="3.3"/><circle cx="372.0" cy="177.5" r="3.3"/><circle cx="373.5" cy="179.3" r="3.3"/><circle cx="375.1" cy="175.8" r="3.3"/><circle cx="376.6" cy="174.9" r="3.3"/><circle cx="378.2" cy="176.5" r="3.3"/><circle cx="379.7" cy="182.2" r="3.3"/><circle cx="381.3" cy="189.9" r="3.3"/><circle cx="382.9" cy="194.2" r="3.3"/><circle cx="384.4" cy="190.4" r="3.3"/><circle cx="386.0" cy="186.8" r="3.3"/><circle cx="387.5" cy="187.2" r="3.3"/><circle cx="389.1" cy="190.4" r="3.3"/><circle cx="390.6" cy="196.0" r="3.3"/><circle cx="392.2" cy="201.2" r="3.3"/><circle cx="393.7" cy="205.2" r="3.3"/><circle cx="395.3" cy="201.5" r="3.3"/><circle cx="396.8" cy="197.2" r="3.3"/><circle cx="398.4" cy="197.1" r="3.3"/><circle cx="400.0" cy="200.7" r="3.3"/><circle cx="401.5" cy="205.9" r="3.3"/><circle cx="403.1" cy="211.0" r="3.3"/><circle cx="404.6" cy="214.5" r="3.3"/><circle cx="406.2" cy="212.0" r="3.3"/><circle cx="407.7" cy="207.0" r="3.3"/><circle cx="409.3" cy="204.8" r="3.3"/><circle cx="410.8" cy="208.0" r="3.3"/><circle cx="412.4" cy="214.0" r="3.3"/><circle cx="413.9" cy="219.2" r="3.3"/><circle cx="415.5" cy="223.3" r="3.3"/><circle cx="417.1" cy="222.9" r="3.3"/><circle cx="418.6" cy="217.1" r="3.3"/><circle cx="420.2" cy="211.6" r="3.3"/><circle cx="421.7" cy="213.0" r="3.3"/><circle cx="423.3" cy="217.8" r="3.3"/><circle cx="424.8" cy="224.2" r="3.3"/><circle cx="426.4" cy="227.3" r="3.3"/><circle cx="427.9" cy="228.8" r="3.3"/><circle cx="429.5" cy="227.9" r="3.3"/><circle cx="431.1" cy="222.9" r="3.3"/><circle cx="432.6" cy="220.7" r="3.3"/><circle cx="434.2" cy="222.2" r="3.3"/><circle cx="435.7" cy="227.6" r="3.3"/><circle cx="437.3" cy="234.2" r="3.3"/><circle cx="438.8" cy="234.1" r="3.3"/><circle cx="440.4" cy="234.3" r="3.3"/><circle cx="441.9" cy="231.1" r="3.3"/><circle cx="443.5" cy="226.9" r="3.3"/><circle cx="445.0" cy="226.8" r="3.3"/><circle cx="446.6" cy="230.8" r="3.3"/><circle cx="448.2" cy="236.8" r="3.3"/><circle cx="449.7" cy="240.5" r="3.3"/><circle cx="451.3" cy="240.6" r="3.3"/><circle cx="452.8" cy="237.7" r="3.3"/><circle cx="454.4" cy="235.4" r="3.3"/><circle cx="455.9" cy="231.8" r="3.3"/><circle cx="457.5" cy="232.8" r="3.3"/><circle cx="459.0" cy="237.2" r="3.3"/><circle cx="460.6" cy="243.4" r="3.3"/><circle cx="462.1" cy="247.6" r="3.3"/><circle cx="463.7" cy="246.7" r="3.3"/><circle cx="465.3" cy="243.6" r="3.3"/><circle cx="466.8" cy="241.3" r="3.3"/><circle cx="468.4" cy="238.3" r="3.3"/><circle cx="469.9" cy="238.5" r="3.3"/><circle cx="471.5" cy="242.8" r="3.3"/><circle cx="473.0" cy="249.9" r="3.3"/><circle cx="474.6" cy="253.1" r="3.3"/><circle cx="476.1" cy="249.6" r="3.3"/><circle cx="477.7" cy="244.0" r="3.3"/><circle cx="479.2" cy="242.2" r="3.3"/><circle cx="480.8" cy="244.2" r="3.3"/><circle cx="482.4" cy="246.2" r="3.3"/><circle cx="483.9" cy="251.1" r="3.3"/><circle cx="485.5" cy="257.1" r="3.3"/><circle cx="487.0" cy="259.4" r="3.3"/><circle cx="488.6" cy="256.5" r="3.3"/><circle cx="490.1" cy="253.4" r="3.3"/><circle cx="491.7" cy="250.4" r="3.3"/><circle cx="493.2" cy="248.5" r="3.3"/><circle cx="494.8" cy="248.8" r="3.3"/><circle cx="496.4" cy="255.1" r="3.3"/><circle cx="497.9" cy="261.0" r="3.3"/><circle cx="499.5" cy="266.5" r="3.3"/><circle cx="501.0" cy="262.1" r="3.3"/><circle cx="502.6" cy="256.9" r="3.3"/><circle cx="504.1" cy="254.3" r="3.3"/><circle cx="505.7" cy="252.0" r="3.3"/><circle cx="507.2" cy="252.6" r="3.3"/><circle cx="508.8" cy="258.2" r="3.3"/><circle cx="510.3" cy="264.7" r="3.3"/><circle cx="511.9" cy="268.1" r="3.3"/><circle cx="513.5" cy="263.7" r="3.3"/><circle cx="515.0" cy="259.0" r="3.3"/><circle cx="516.6" cy="254.9" r="3.3"/><circle cx="518.1" cy="253.0" r="3.3"/><circle cx="519.7" cy="255.0" r="3.3"/><circle cx="521.2" cy="262.0" r="3.3"/><circle cx="522.8" cy="270.8" r="3.3"/><circle cx="524.3" cy="274.5" r="3.3"/><circle cx="525.9" cy="268.5" r="3.3"/><circle cx="527.4" cy="260.4" r="3.3"/><circle cx="529.0" cy="257.3" r="3.3"/><circle cx="530.6" cy="258.5" r="3.3"/><circle cx="532.1" cy="262.1" r="3.3"/><circle cx="533.7" cy="270.1" r="3.3"/><circle cx="535.2" cy="278.7" r="3.3"/><circle cx="536.8" cy="281.0" r="3.3"/><circle cx="538.3" cy="274.3" r="3.3"/><circle cx="539.9" cy="264.4" r="3.3"/><circle cx="541.4" cy="259.2" r="3.3"/><circle cx="543.0" cy="261.1" r="3.3"/><circle cx="544.5" cy="267.5" r="3.3"/><circle cx="546.1" cy="274.5" r="3.3"/><circle cx="547.7" cy="281.2" r="3.3"/><circle cx="549.2" cy="282.2" r="3.3"/><circle cx="550.8" cy="276.2" r="3.3"/><circle cx="552.3" cy="269.0" r="3.3"/><circle cx="553.9" cy="265.7" r="3.3"/><circle cx="555.4" cy="266.9" r="3.3"/><circle cx="557.0" cy="269.9" r="3.3"/><circle cx="558.5" cy="277.7" r="3.3"/><circle cx="560.1" cy="286.4" r="3.3"/><circle cx="561.7" cy="288.5" r="3.3"/><circle cx="563.2" cy="282.7" r="3.3"/><circle cx="564.8" cy="274.5" r="3.3"/><circle cx="566.3" cy="270.5" r="3.3"/><circle cx="567.9" cy="271.9" r="3.3"/><circle cx="569.4" cy="275.8" r="3.3"/><circle cx="571.0" cy="282.0" r="3.3"/><circle cx="572.5" cy="289.2" r="3.3"/><circle cx="574.1" cy="290.0" r="3.3"/><circle cx="575.6" cy="284.1" r="3.3"/><circle cx="577.2" cy="276.8" r="3.3"/><circle cx="578.8" cy="271.2" r="3.3"/><circle cx="580.3" cy="271.9" r="3.3"/><circle cx="581.9" cy="275.8" r="3.3"/><circle cx="583.4" cy="280.6" r="3.3"/><circle cx="585.0" cy="286.8" r="3.3"/><circle cx="586.5" cy="293.4" r="3.3"/><circle cx="588.1" cy="293.0" r="3.3"/><circle cx="589.6" cy="285.8" r="3.3"/><circle cx="591.2" cy="276.4" r="3.3"/><circle cx="592.7" cy="272.6" r="3.3"/><circle cx="594.3" cy="276.6" r="3.3"/><circle cx="595.9" cy="282.8" r="3.3"/><circle cx="597.4" cy="289.6" r="3.3"/><circle cx="599.0" cy="294.5" r="3.3"/><circle cx="600.5" cy="295.1" r="3.3"/><circle cx="602.1" cy="287.6" r="3.3"/><circle cx="603.6" cy="279.0" r="3.3"/><circle cx="605.2" cy="275.5" r="3.3"/><circle cx="606.7" cy="282.1" r="3.3"/><circle cx="608.3" cy="290.3" r="3.3"/><circle cx="609.8" cy="297.3" r="3.3"/><circle cx="611.4" cy="300.0" r="3.3"/><circle cx="613.0" cy="299.0" r="3.3"/><circle cx="614.5" cy="291.4" r="3.3"/><circle cx="616.1" cy="283.1" r="3.3"/><circle cx="617.6" cy="279.2" r="3.3"/><circle cx="619.2" cy="282.1" r="3.3"/><circle cx="620.7" cy="292.7" r="3.3"/><circle cx="622.3" cy="300.3" r="3.3"/><circle cx="623.8" cy="303.4" r="3.3"/><circle cx="625.4" cy="298.9" r="3.3"/><circle cx="627.0" cy="290.0" r="3.3"/><circle cx="628.5" cy="284.5" r="3.3"/><circle cx="630.1" cy="283.0" r="3.3"/><circle cx="631.6" cy="283.9" r="3.3"/><circle cx="633.2" cy="289.1" r="3.3"/><circle cx="634.7" cy="301.7" r="3.3"/><circle cx="636.3" cy="306.9" r="3.3"/><circle cx="637.8" cy="301.9" r="3.3"/><circle cx="639.4" cy="290.7" r="3.3"/><circle cx="640.9" cy="287.0" r="3.3"/><circle cx="642.5" cy="288.3" r="3.3"/><circle cx="644.1" cy="286.8" r="3.3"/><circle cx="645.6" cy="293.6" r="3.3"/><circle cx="647.2" cy="305.2" r="3.3"/><circle cx="648.7" cy="305.3" r="3.3"/><circle cx="650.3" cy="304.8" r="3.3"/><circle cx="651.8" cy="298.0" r="3.3"/><circle cx="653.4" cy="292.3" r="3.3"/><circle cx="654.9" cy="288.5" r="3.3"/><circle cx="656.5" cy="289.9" r="3.3"/><circle cx="658.0" cy="299.1" r="3.3"/><circle cx="659.6" cy="308.0" r="3.3"/><circle cx="661.2" cy="305.4" r="3.3"/><circle cx="662.7" cy="315.5" r="3.3"/><circle cx="664.3" cy="309.3" r="3.3"/><circle cx="665.8" cy="299.9" r="3.3"/><circle cx="667.4" cy="295.2" r="3.3"/><circle cx="668.9" cy="291.0" r="3.3"/><circle cx="670.5" cy="301.7" r="3.3"/><circle cx="672.0" cy="313.0" r="3.3"/><circle cx="673.6" cy="310.5" r="3.3"/><circle cx="675.1" cy="312.9" r="3.3"/><circle cx="676.7" cy="303.3" r="3.3"/><circle cx="678.3" cy="294.7" r="3.3"/><circle cx="679.8" cy="297.4" r="3.3"/><circle cx="681.4" cy="291.3" r="3.3"/><circle cx="682.9" cy="299.5" r="3.3"/><circle cx="684.5" cy="315.0" r="3.3"/><circle cx="686.0" cy="306.2" r="3.3"/><circle cx="687.6" cy="309.9" r="3.3"/><circle cx="689.1" cy="308.7" r="3.3"/><circle cx="690.7" cy="302.0" r="3.3"/><circle cx="692.2" cy="298.4" r="3.3"/><circle cx="693.8" cy="291.5" r="3.3"/><circle cx="695.4" cy="297.0" r="3.3"/><circle cx="696.9" cy="310.5" r="3.3"/><circle cx="698.5" cy="320.4" r="3.3"/><circle cx="700.0" cy="313.2" r="3.3"/><circle cx="701.6" cy="309.4" r="3.3"/><circle cx="703.1" cy="307.9" r="3.3"/><circle cx="704.7" cy="303.1" r="3.3"/><circle cx="706.2" cy="303.4" r="3.3"/><circle cx="707.8" cy="307.3" r="3.3"/><circle cx="709.4" cy="311.2" r="3.3"/><circle cx="710.9" cy="314.1" r="3.3"/><circle cx="712.5" cy="318.2" r="3.3"/><circle cx="714.0" cy="314.8" r="3.3"/><circle cx="715.6" cy="305.4" r="3.3"/><circle cx="717.1" cy="303.1" r="3.3"/><circle cx="718.7" cy="301.8" r="3.3"/><circle cx="720.2" cy="309.9" r="3.3"/><circle cx="721.8" cy="312.9" r="3.3"/><circle cx="723.3" cy="318.8" r="3.3"/><circle cx="724.9" cy="297.0" r="3.3"/><circle cx="726.5" cy="311.9" r="3.3"/><circle cx="728.0" cy="304.6" r="3.3"/><circle cx="729.6" cy="302.2" r="3.3"/><circle cx="731.1" cy="303.9" r="3.3"/><circle cx="732.7" cy="324.1" r="3.3"/><circle cx="734.2" cy="319.9" r="3.3"/><circle cx="735.8" cy="312.3" r="3.3"/><circle cx="737.3" cy="318.5" r="3.3"/><circle cx="738.9" cy="316.2" r="3.3"/><circle cx="740.4" cy="311.2" r="3.3"/><circle cx="742.0" cy="312.0" r="3.3"/><circle cx="743.6" cy="308.8" r="3.3"/><circle cx="745.1" cy="313.6" r="3.3"/><circle cx="746.7" cy="319.1" r="3.3"/><circle cx="748.2" cy="315.5" r="3.3"/><circle cx="749.8" cy="317.6" r="3.3"/><circle cx="751.3" cy="315.6" r="3.3"/><circle cx="752.9" cy="312.1" r="3.3"/><circle cx="754.4" cy="314.5" r="3.3"/><circle cx="756.0" cy="310.0" r="3.3"/><circle cx="757.5" cy="311.6" r="3.3"/><circle cx="759.1" cy="323.4" r="3.3"/><circle cx="760.7" cy="315.8" r="3.3"/><circle cx="762.2" cy="319.2" r="3.3"/><circle cx="763.8" cy="315.6" r="3.3"/><circle cx="765.3" cy="316.0" r="3.3"/><circle cx="766.9" cy="316.2" r="3.3"/><circle cx="768.4" cy="316.9" r="3.3"/><circle cx="770.0" cy="312.6" r="3.3"/><circle cx="771.5" cy="304.5" r="3.3"/><circle cx="773.1" cy="332.3" r="3.3"/><circle cx="774.7" cy="317.2" r="3.3"/><circle cx="776.2" cy="321.8" r="3.3"/><circle cx="777.8" cy="315.1" r="3.3"/><circle cx="779.3" cy="329.7" r="3.3"/><circle cx="780.9" cy="309.6" r="3.3"/><circle cx="782.4" cy="322.5" r="3.3"/><circle cx="784.0" cy="321.2" r="3.3"/><circle cx="785.5" cy="330.3" r="3.3"/><circle cx="787.1" cy="322.6" r="3.3"/><circle cx="788.6" cy="309.5" r="3.3"/><circle cx="790.2" cy="324.3" r="3.3"/><circle cx="791.8" cy="311.5" r="3.3"/><circle cx="793.3" cy="319.7" r="3.3"/><circle cx="794.9" cy="316.0" r="3.3"/><circle cx="796.4" cy="322.8" r="3.3"/><circle cx="798.0" cy="325.8" r="3.3"/><circle cx="799.5" cy="317.1" r="3.3"/><circle cx="801.1" cy="316.5" r="3.3"/><circle cx="802.6" cy="320.4" r="3.3"/><circle cx="804.2" cy="327.9" r="3.3"/><circle cx="805.7" cy="315.6" r="3.3"/><circle cx="807.3" cy="313.4" r="3.3"/><circle cx="808.9" cy="333.7" r="3.3"/><circle cx="810.4" cy="339.2" r="3.3"/><circle cx="812.0" cy="323.4" r="3.3"/><circle cx="813.5" cy="335.2" r="3.3"/><circle cx="815.1" cy="323.8" r="3.3"/><circle cx="816.6" cy="308.5" r="3.3"/><circle cx="818.2" cy="319.3" r="3.3"/><circle cx="819.7" cy="316.1" r="3.3"/><circle cx="821.3" cy="323.0" r="3.3"/><circle cx="822.8" cy="317.5" r="3.3"/><circle cx="824.4" cy="332.6" r="3.3"/><circle cx="826.0" cy="328.0" r="3.3"/><circle cx="827.5" cy="327.2" r="3.3"/><circle cx="829.1" cy="322.0" r="3.3"/></g>
<path d="M331.5,138.2 L332.3,137.1 L333.1,136.1 L333.9,135.1 L334.7,134.2 L335.4,133.4 L336.2,132.6 L337.0,131.8 L337.8,131.0 L338.5,130.3 L339.3,129.7 L340.1,129.0 L340.9,128.4 L341.7,127.8 L342.4,127.2 L343.2,126.6 L344.0,126.1 L344.8,125.6 L345.5,125.1 L346.3,124.6 L347.1,124.1 L347.9,123.7 L348.7,123.2 L349.4,122.8 L350.2,122.4 L351.0,122.1 L351.8,121.9 L352.5,121.9 L353.3,122.4 L354.1,123.5 L354.9,125.5 L355.6,128.4 L356.4,132.1 L357.2,136.2 L358.0,139.8 L358.8,142.6 L359.5,144.9 L360.3,147.2 L361.1,150.4 L361.9,154.6 L362.6,159.4 L363.4,163.9 L364.2,166.2 L365.0,166.1 L365.8,164.6 L366.5,163.3 L367.3,163.1 L368.1,164.1 L368.9,166.6 L369.6,170.5 L370.4,175.5 L371.2,180.9 L372.0,185.2 L372.7,186.9 L373.5,185.6 L374.3,182.8 L375.1,180.1 L375.9,178.2 L376.6,177.5 L377.4,178.1 L378.2,179.9 L379.0,182.9 L379.7,187.1 L380.5,192.1 L381.3,197.4 L382.1,201.4 L382.9,202.7 L383.6,201.0 L384.4,197.8 L385.2,194.5 L386.0,192.0 L386.7,190.5 L387.5,190.1 L388.3,190.8 L389.1,192.7 L389.9,195.7 L390.6,199.7 L391.4,204.6 L392.2,209.7 L393.0,213.9 L393.7,215.6 L394.5,214.2 L395.3,211.0 L396.1,207.4 L396.8,204.3 L397.6,202.2 L398.4,201.2 L399.2,201.1 L400.0,202.2 L400.7,204.3 L401.5,207.4 L402.3,211.5 L403.1,216.3 L403.8,221.3 L404.6,225.1 L405.4,226.4 L406.2,224.8 L407.0,221.4 L407.7,217.7 L408.5,214.5 L409.3,212.3 L410.1,211.0 L410.8,210.7 L411.6,211.5 L412.4,213.2 L413.2,216.0 L413.9,219.7 L414.7,224.3 L415.5,229.2 L416.3,233.6 L417.1,235.9 L417.8,235.2 L418.6,232.2 L419.4,228.4 L420.2,224.9 L420.9,222.1 L421.7,220.3 L422.5,219.5 L423.3,219.6 L424.1,220.7 L424.8,222.8 L425.6,225.9 L426.4,229.9 L427.2,234.6 L427.9,239.4 L428.7,243.2 L429.5,244.5 L430.3,242.9 L431.1,239.5 L431.8,235.6 L432.6,232.2 L433.4,229.7 L434.2,228.0 L434.9,227.3 L435.7,227.6 L436.5,228.9 L437.3,231.1 L438.0,234.2 L438.8,238.3 L439.6,242.9 L440.4,247.6 L441.2,251.2 L441.9,252.2 L442.7,250.3 L443.5,246.8 L444.3,242.9 L445.0,239.5 L445.8,237.0 L446.6,235.3 L447.4,234.6 L448.2,234.9 L448.9,236.1 L449.7,238.2 L450.5,241.3 L451.3,245.3 L452.0,249.9 L452.8,254.5 L453.6,258.1 L454.4,259.3 L455.2,257.6 L455.9,254.1 L456.7,250.2 L457.5,246.7 L458.3,244.0 L459.0,242.2 L459.8,241.4 L460.6,241.5 L461.4,242.5 L462.1,244.5 L462.9,247.4 L463.7,251.2 L464.5,255.7 L465.3,260.4 L466.0,264.2 L466.8,265.8 L467.6,264.6 L468.4,261.2 L469.1,257.3 L469.9,253.7 L470.7,250.8 L471.5,248.8 L472.3,247.7 L473.0,247.6 L473.8,248.4 L474.6,250.1 L475.4,252.7 L476.1,256.3 L476.9,260.6 L477.7,265.3 L478.5,269.4 L479.2,271.7 L480.0,271.2 L480.8,268.3 L481.6,264.4 L482.4,260.6 L483.1,257.4 L483.9,255.1 L484.7,253.8 L485.5,253.3 L486.2,253.8 L487.0,255.2 L487.8,257.5 L488.6,260.7 L489.4,264.8 L490.1,269.4 L490.9,273.8 L491.7,276.9 L492.5,277.3 L493.2,275.1 L494.0,271.3 L494.8,267.4 L495.6,263.9 L496.4,261.3 L497.1,259.6 L497.9,258.8 L498.7,258.9 L499.5,259.9 L500.2,261.9 L501.0,264.7 L501.8,268.5 L502.6,272.9 L503.3,277.5 L504.1,281.2 L504.9,282.8 L505.7,281.5 L506.5,278.1 L507.2,274.1 L508.0,270.4 L508.8,267.4 L509.6,265.3 L510.3,264.1 L511.1,263.8 L511.9,264.4 L512.7,265.9 L513.5,268.4 L514.2,271.7 L515.0,275.9 L515.8,280.4 L516.6,284.7 L517.3,287.4 L518.1,287.3 L518.9,284.7 L519.7,280.8 L520.5,276.9 L521.2,273.5 L522.0,270.9 L522.8,269.3 L523.6,268.6 L524.3,268.8 L525.1,269.8 L525.9,271.8 L526.7,274.8 L527.4,278.5 L528.2,282.9 L529.0,287.5 L529.8,291.0 L530.6,292.3 L531.3,290.8 L532.1,287.3 L532.9,283.3 L533.7,279.6 L534.4,276.6 L535.2,274.5 L536.0,273.3 L536.8,273.0 L537.6,273.6 L538.3,275.2 L539.1,277.6 L539.9,280.9 L540.7,285.0 L541.4,289.6 L542.2,293.8 L543.0,296.4 L543.8,296.3 L544.5,293.6 L545.3,289.7 L546.1,285.7 L546.9,282.3 L547.7,279.8 L548.4,278.1 L549.2,277.3 L550.0,277.4 L550.8,278.5 L551.5,280.4 L552.3,283.3 L553.1,286.9 L553.9,291.3 L554.7,295.8 L555.4,299.5 L556.2,300.9 L557.0,299.4 L557.8,296.0 L558.5,291.9 L559.3,288.2 L560.1,285.1 L560.9,282.9 L561.7,281.6 L562.4,281.3 L563.2,281.8 L564.0,283.2 L564.8,285.5 L565.5,288.8 L566.3,292.8 L567.1,297.3 L567.9,301.5 L568.6,304.3 L569.4,304.5 L570.2,302.0 L571.0,298.1 L571.8,294.1 L572.5,290.6 L573.3,287.9 L574.1,286.1 L574.9,285.2 L575.6,285.2 L576.4,286.1 L577.2,287.9 L578.0,290.6 L578.8,294.1 L579.5,298.4 L580.3,302.9 L581.1,306.7 L581.9,308.5 L582.6,307.4 L583.4,304.1 L584.2,300.1 L585.0,296.2 L585.7,293.0 L586.5,290.7 L587.3,289.2 L588.1,288.7 L588.9,289.1 L589.6,290.3 L590.4,292.5 L591.2,295.5 L592.0,299.4 L592.7,303.8 L593.5,308.2 L594.3,311.3 L595.1,311.9 L595.9,309.8 L596.6,306.1 L597.4,302.0 L598.2,298.4 L599.0,295.5 L599.7,293.5 L600.5,292.4 L601.3,292.2 L602.1,292.9 L602.9,294.5 L603.6,297.0 L604.4,300.4 L605.2,304.5 L606.0,309.0 L606.7,313.0 L607.5,315.3 L608.3,314.8 L609.1,311.9 L609.8,307.9 L610.6,303.9 L611.4,300.5 L612.2,298.0 L613.0,296.3 L613.7,295.5 L614.5,295.7 L615.3,296.7 L616.1,298.7 L616.8,301.5 L617.6,305.2 L618.4,309.5 L619.2,313.9 L620.0,317.5 L620.7,318.7 L621.5,317.2 L622.3,313.7 L623.1,309.6 L623.8,305.8 L624.6,302.7 L625.4,300.4 L626.2,299.1 L627.0,298.7 L627.7,299.1 L628.5,300.5 L629.3,302.8 L630.1,305.9 L630.8,309.8 L631.6,314.3 L632.4,318.5 L633.2,321.4 L633.9,321.6 L634.7,319.2 L635.5,315.3 L636.3,311.2 L637.1,307.6 L637.8,304.8 L638.6,302.9 L639.4,301.9 L640.2,301.8 L640.9,302.6 L641.7,304.2 L642.5,306.8 L643.3,310.2 L644.1,314.4 L644.8,318.9 L645.6,322.8 L646.4,324.8 L647.2,324.0 L647.9,320.9 L648.7,316.8 L649.5,312.9 L650.3,309.5 L651.0,307.0 L651.8,305.4 L652.6,304.7 L653.4,304.9 L654.2,306.0 L654.9,308.0 L655.7,310.8 L656.5,314.5 L657.3,318.9 L658.0,323.3 L658.8,326.7 L659.6,327.8 L660.4,326.0 L661.2,322.4 L661.9,318.3 L662.7,314.5 L663.5,311.5 L664.3,309.2 L665.0,307.9 L665.8,307.5 L666.6,308.0 L667.4,309.4 L668.2,311.7 L668.9,314.8 L669.7,318.8 L670.5,323.2 L671.3,327.4 L672.0,330.2 L672.8,330.3 L673.6,327.8 L674.4,323.8 L675.1,319.8 L675.9,316.2 L676.7,313.4 L677.5,311.5 L678.3,310.5 L679.0,310.3 L679.8,311.1 L680.6,312.8 L681.4,315.3 L682.1,318.8 L682.9,322.9 L683.7,327.4 L684.5,331.2 L685.3,333.2 L686.0,332.4 L686.8,329.3 L687.6,325.2 L688.4,321.2 L689.1,317.9 L689.9,315.3 L690.7,313.7 L691.5,313.0 L692.3,313.1 L693.0,314.2 L693.8,316.2 L694.6,319.0 L695.4,322.7 L696.1,327.0 L696.9,331.3 L697.7,334.8 L698.5,335.9 L699.2,334.2 L700.0,330.6 L700.8,326.5 L701.6,322.7 L702.4,319.6 L703.1,317.3 L703.9,316.0 L704.7,315.5 L705.5,316.0 L706.2,317.3 L707.0,319.5 L707.8,322.6 L708.6,326.5 L709.4,330.9 L710.1,335.1 L710.9,338.0 L711.7,338.2 L712.5,335.7 L713.2,331.9 L714.0,327.7 L714.8,324.1 L715.6,321.3 L716.3,319.3 L717.1,318.2 L717.9,318.1 L718.7,318.8 L719.5,320.4 L720.2,322.9 L721.0,326.2 L721.8,330.3 L722.6,334.7 L723.3,338.7 L724.1,340.8 L724.9,340.1 L725.7,337.1 L726.5,333.0 L727.2,329.0 L728.0,325.6 L728.8,323.0 L729.6,321.3 L730.3,320.5 L731.1,320.6 L731.9,321.6 L732.7,323.4 L733.5,326.2 L734.2,329.8 L735.0,334.0 L735.8,338.4 L736.6,342.0 L737.3,343.3 L738.1,341.8 L738.9,338.3 L739.7,334.2 L740.4,330.3 L741.2,327.1 L742.0,324.8 L742.8,323.3 L743.6,322.8 L744.3,323.1 L745.1,324.4 L745.9,326.5 L746.7,329.5 L747.4,333.3 L748.2,337.7 L749.0,342.0 L749.8,345.0 L750.6,345.5 L751.3,343.3 L752.1,339.4 L752.9,335.3 L753.7,331.6 L754.4,328.6 L755.2,326.6 L756.0,325.4 L756.8,325.1 L757.5,325.7 L758.3,327.2 L759.1,329.6 L759.9,332.8 L760.7,336.8 L761.4,341.3 L762.2,345.3 L763.0,347.7 L763.8,347.3 L764.5,344.5 L765.3,340.5 L766.1,336.4 L766.9,332.9 L767.7,330.2 L768.4,328.4 L769.2,327.5 L770.0,327.4 L770.8,328.3 L771.5,330.0 L772.3,332.6 L773.1,336.1 L773.9,340.3 L774.7,344.7 L775.4,348.4 L776.2,350.1 L777.0,349.0 L777.8,345.6 L778.5,341.5 L779.3,337.5 L780.1,334.2 L780.9,331.8 L781.6,330.2 L782.4,329.5 L783.2,329.7 L784.0,330.8 L784.8,332.8 L785.5,335.7 L786.3,339.4 L787.1,343.7 L787.9,348.0 L788.6,351.3 L789.4,352.2 L790.2,350.3 L791.0,346.7 L791.8,342.5 L792.5,338.7 L793.3,335.6 L794.1,333.4 L794.9,332.1 L795.6,331.6 L796.4,332.1 L797.2,333.4 L798.0,335.7 L798.8,338.8 L799.5,342.7 L800.3,347.0 L801.1,351.2 L801.9,354.0 L802.6,354.1 L803.4,351.6 L804.2,347.6 L805.0,343.5 L805.7,339.9 L806.5,337.0 L807.3,335.0 L808.1,333.9 L808.9,333.7 L809.6,334.4 L810.4,336.0 L811.2,338.5 L812.0,341.8 L812.7,345.9 L813.5,350.3 L814.3,354.2 L815.1,356.3 L815.9,355.7 L816.6,352.6 L817.4,348.5 L818.2,344.5 L819.0,341.1 L819.7,338.4 L820.5,336.7 L821.3,335.8 L822.1,335.9 L822.8,336.8 L823.6,338.6 L824.4,341.3 L825.2,344.8 L826.0,349.0 L826.7,353.4 L827.5,357.0 L828.3,358.4 L829.1,357.1 L829.8,353.6" fill="none" stroke="#ff0000" stroke-width="2.9" stroke-linejoin="round"/>
</g>
<g clip-path="url(#c2)"><path d="M331.6,428.3 L333.1,428.0 L334.6,427.7 L336.0,427.5 L337.5,427.2 L339.0,426.9 L340.5,426.6 L342.0,426.3 L343.5,426.1 L345.0,425.8 L346.5,425.6 L348.1,425.3 L349.6,425.1 L351.1,424.8 L352.6,424.6 L354.3,421.9 L356.0,419.3 L357.3,421.4 L358.6,423.5 L360.2,422.4 L361.7,420.4 L363.3,419.3 L365.2,423.3 L367.0,427.2 L368.7,425.0 L370.3,420.9 L371.9,418.6 L373.7,420.6 L375.5,424.2 L377.3,426.2 L379.0,423.8 L380.8,419.6 L382.6,417.3 L384.3,418.8 L385.9,422.1 L387.6,425.4 L389.3,427.0 L390.8,423.7 L392.4,417.8 L393.9,414.6 L395.4,416.2 L396.8,419.5 L398.3,423.6 L399.8,427.0 L401.2,428.6 L402.8,424.0 L404.3,415.8 L405.9,411.3 L407.4,413.4 L408.8,418.1 L410.3,423.7 L411.8,428.4 L413.2,430.6 L414.9,424.6 L416.6,413.9 L418.3,407.9 L420.0,411.8 L421.7,419.7 L423.5,427.7 L425.2,431.5 L426.8,424.4 L428.3,411.7 L429.9,404.6 L431.3,407.7 L432.8,414.4 L434.3,422.4 L435.7,429.1 L437.2,432.2 L438.9,423.7 L440.6,408.4 L442.3,399.9 L443.7,403.8 L445.1,412.1 L446.6,422.2 L448.0,430.5 L449.4,434.3 L451.1,424.2 L452.8,406.0 L454.5,396.0 L456.0,400.4 L457.4,410.1 L458.9,421.8 L460.4,431.5 L461.8,435.9 L463.6,424.8 L465.4,404.8 L467.2,393.7 L468.6,398.4 L470.0,408.6 L471.4,421.0 L472.8,431.2 L474.2,435.9 L475.8,423.7 L477.5,401.5 L479.1,389.3 L480.6,394.7 L482.1,406.6 L483.5,420.9 L485.0,432.7 L486.5,438.2 L488.0,430.3 L489.5,413.9 L491.0,397.5 L492.5,389.7 L494.1,397.7 L495.8,414.5 L497.4,431.2 L499.1,439.2 L500.6,430.8 L502.1,413.1 L503.6,395.5 L505.1,387.0 L506.7,394.9 L508.4,411.4 L510.0,427.8 L511.7,435.7 L513.2,427.0 L514.7,408.7 L516.3,390.5 L517.8,381.8 L519.4,390.8 L520.9,409.7 L522.5,428.6 L524.0,437.7 L525.6,428.3 L527.1,408.8 L528.6,389.3 L530.2,380.0 L531.7,390.0 L533.3,411.0 L534.8,431.9 L536.4,441.9 L538.0,432.1 L539.6,411.5 L541.1,390.9 L542.7,381.0 L544.2,390.3 L545.7,409.8 L547.3,429.3 L548.8,438.7 L550.2,432.4 L551.6,418.7 L553.0,402.2 L554.5,388.5 L555.9,382.3 L557.2,391.5 L558.6,410.7 L560.0,429.9 L561.3,439.2 L562.8,433.1 L564.3,420.0 L565.8,404.1 L567.3,391.0 L568.7,384.9 L570.4,398.7 L572.0,423.5 L573.7,437.2 L575.2,431.1 L576.8,417.9 L578.3,401.9 L579.9,388.6 L581.4,382.6 L582.9,391.6 L584.5,410.5 L586.0,429.3 L587.5,438.4 L589.1,428.8 L590.8,409.0 L592.4,389.1 L594.0,379.6 L595.5,388.6 L597.0,407.4 L598.6,426.2 L600.1,435.2 L601.7,426.9 L603.2,409.5 L604.8,392.1 L606.3,383.8 L607.9,392.0 L609.4,409.2 L610.9,426.4 L612.5,434.7 L614.1,426.8 L615.8,410.3 L617.5,393.8 L619.2,385.9 L620.6,393.0 L622.0,407.8 L623.4,422.7 L624.8,429.8 L629.4,403.5 L632.9,380.0 L635.8,422.3 L637.6,426.3 L640.3,409.5 L642.3,407.5 L643.7,390.7 L645.5,388.2 L648.2,409.5 L649.9,423.3 L652.6,419.4 L654.4,402.6 L656.1,401.6 L657.6,393.2 L659.6,400.1 L661.0,402.6 L662.3,431.7 L664.0,430.2 L666.5,413.4 L668.5,400.6 L670.2,398.1 L671.9,403.5 L673.9,406.0 L674.6,418.9 L676.4,416.4 L677.9,410.0 L679.3,413.4 L682.3,388.7 L684.1,412.0 L685.6,391.7 L688.5,418.6 L690.2,411.0 L692.0,410.5 L694.9,390.7 L696.4,402.1 L697.9,397.8 L699.3,411.5 L701.1,404.0 L702.6,412.9 L705.1,411.0 L707.5,410.0 L710.5,393.8 L712.5,403.5 L715.0,407.0 L717.9,406.0 L721.1,412.9 L722.9,403.0 L724.4,408.5 L726.8,404.5 L729.3,402.1 L730.8,405.5 L732.1,429.3 L733.7,421.3 L736.7,386.2 L738.2,406.0 L739.9,396.6 L742.2,410.5 L744.1,413.4 L746.4,423.2 L748.6,393.9 L750.9,393.1 L753.9,403.5 L756.0,405.7 L757.1,417.4 L759.2,414.7 L762.4,390.2 L765.6,392.4 L766.5,407.8 L768.8,402.5 L772.5,422.7 L775.2,391.8 L777.5,381.0 L778.4,406.7 L780.5,399.3 L781.6,416.8 L783.7,411.5 L785.1,420.0 L788.0,383.8 L789.6,395.0 L791.2,384.9 L792.8,405.7 L795.4,410.5 L798.8,421.1 L801.8,374.8 L803.4,398.2 L805.5,401.9 L808.2,412.1 L809.8,427.0 L813.5,411.5 L816.2,367.5 L817.3,401.9 L819.4,403.0 L822.6,415.2 L824.0,423.8 L826.3,389.7 L828.4,381.7 L829.7,380.1" fill="none" stroke="#ff0000" stroke-width="2.9" stroke-linejoin="round"/></g>
<g fill="none" stroke="#000" stroke-width="1">
<rect x="331.5" y="117.5" width="498.0" height="243.0"/>
<rect x="331.5" y="364.5" width="498.0" height="78.0"/>
<path d="M331.5,118.5 h-4.9 M331.5,159.5 h-4.9 M331.5,200.5 h-4.9 M331.5,241.5 h-4.9 M331.5,283.5 h-4.9 M331.5,324.5 h-4.9 M331.5,146.5 h-2.8 M331.5,139.5 h-2.8 M331.5,134.5 h-2.8 M331.5,130.5 h-2.8 M331.5,127.5 h-2.8 M331.5,124.5 h-2.8 M331.5,122.5 h-2.8 M331.5,119.5 h-2.8 M331.5,188.5 h-2.8 M331.5,180.5 h-2.8 M331.5,175.5 h-2.8 M331.5,171.5 h-2.8 M331.5,168.5 h-2.8 M331.5,165.5 h-2.8 M331.5,163.5 h-2.8 M331.5,161.5 h-2.8 M331.5,229.5 h-2.8 M331.5,222.5 h-2.8 M331.5,216.5 h-2.8 M331.5,212.5 h-2.8 M331.5,209.5 h-2.8 M331.5,206.5 h-2.8 M331.5,204.5 h-2.8 M331.5,202.5 h-2.8 M331.5,270.5 h-2.8 M331.5,263.5 h-2.8 M331.5,258.5 h-2.8 M331.5,254.5 h-2.8 M331.5,250.5 h-2.8 M331.5,248.5 h-2.8 M331.5,245.5 h-2.8 M331.5,243.5 h-2.8 M331.5,311.5 h-2.8 M331.5,304.5 h-2.8 M331.5,299.5 h-2.8 M331.5,295.5 h-2.8 M331.5,292.5 h-2.8 M331.5,289.5 h-2.8 M331.5,287.5 h-2.8 M331.5,285.5 h-2.8 M331.5,353.5 h-2.8 M331.5,345.5 h-2.8 M331.5,340.5 h-2.8 M331.5,336.5 h-2.8 M331.5,333.5 h-2.8 M331.5,330.5 h-2.8 M331.5,328.5 h-2.8 M331.5,326.5 h-2.8 M331.5,429.5 h-4.9 M331.5,373.5 h-4.9 M381.5,442.5 v4.9 M443.5,442.5 v4.9 M505.5,442.5 v4.9 M567.5,442.5 v4.9 M630.5,442.5 v4.9 M692.5,442.5 v4.9 M754.5,442.5 v4.9 M816.5,442.5 v4.9"/>
</g>
<g fill="#000">
<text x="321.6" y="124.0" text-anchor="end">10<tspan font-size="9.2" dy="-5.3">0</tspan></text>
<text x="321.6" y="165.3" text-anchor="end">10<tspan font-size="9.2" dy="-5.3">−1</tspan></text>
<text x="321.6" y="206.6" text-anchor="end">10<tspan font-size="9.2" dy="-5.3">−2</tspan></text>
<text x="321.6" y="247.8" text-anchor="end">10<tspan font-size="9.2" dy="-5.3">−3</tspan></text>
<text x="321.6" y="289.1" text-anchor="end">10<tspan font-size="9.2" dy="-5.3">−4</tspan></text>
<text x="321.6" y="330.4" text-anchor="end">10<tspan font-size="9.2" dy="-5.3">−5</tspan></text>
<text x="322.6" y="434.3" text-anchor="end">0</text>
<text x="322.6" y="378.6" text-anchor="end">1</text>
<text x="381.3" y="462.1" text-anchor="middle">1</text>
<text x="443.5" y="462.1" text-anchor="middle">2</text>
<text x="505.7" y="462.1" text-anchor="middle">3</text>
<text x="567.9" y="462.1" text-anchor="middle">4</text>
<text x="630.1" y="462.1" text-anchor="middle">5</text>
<text x="692.2" y="462.1" text-anchor="middle">6</text>
<text x="754.4" y="462.1" text-anchor="middle">7</text>
<text x="816.6" y="462.1" text-anchor="middle">8</text>
<text x="580.5" y="482" text-anchor="middle">2θ [°]</text>
<text transform="translate(279.9,239.4) rotate(-90)" text-anchor="middle" font-size="13.45">Instnsity [a.u.]</text>
<text transform="translate(305.6,405.6) rotate(-90)" text-anchor="middle">FOM</text>
</g></svg>
<div class="" style="position:absolute;left:852px;top:93px;width:499px;height:1px;background:#fff"></div><div class="" style="position:absolute;left:852px;top:93px;width:1px;height:408px;background:#fff"></div><div class="" style="position:absolute;left:853px;top:499px;width:498px;height:1px;background:#a0a0a0"></div><div class="" style="position:absolute;left:852px;top:500px;width:499px;height:1px;background:#696969"></div><div class="" style="position:absolute;left:1349px;top:94px;width:1px;height:406px;background:#a0a0a0"></div><div class="" style="position:absolute;left:1350px;top:93px;width:1px;height:408px;background:#696969"></div>
<div class="" style="position:absolute;left:852px;top:499px;width:51px;height:23px;background:#f0f0f0"></div><div class="" style="position:absolute;left:852px;top:499px;width:1px;height:22px;background:#fff"></div><div class="" style="position:absolute;left:853px;top:521px;width:49px;height:1px;background:#a0a0a0"></div><div class="" style="position:absolute;left:853px;top:522px;width:49px;height:1px;background:#696969"></div><div class="" style="position:absolute;left:901px;top:501px;width:1px;height:20px;background:#a0a0a0"></div><div class="" style="position:absolute;left:902px;top:500px;width:1px;height:21px;background:#696969"></div><div class="t " style="left:859.0px;top:507.14px;font-size:12px;line-height:12px;letter-spacing:-0.9px">SLD</div>
<svg class="plot" style="left:851px;top:94px" width="500" height="407" viewBox="851 94 500 407" font-family="DejaVu Sans, sans-serif" font-size="13.9">
<defs><clipPath id="c3"><rect x="924.5" y="111.5" width="396.0" height="327.0"/></clipPath></defs>
<rect x="924.5" y="111.5" width="396.0" height="327.0" fill="#fff"/>
<g clip-path="url(#c3)"><path d="M925.35,279.37 L925.50,278.43 L925.65,277.08 L925.80,275.16 L925.95,272.53 L926.10,269.04 L926.25,264.55 L926.40,258.96 L926.55,252.21 L926.70,244.31 L926.85,235.36 L927.00,225.52 L927.15,215.04 L927.30,204.22 L927.45,193.40 L927.60,182.92 L927.75,173.08 L927.90,164.13 L928.05,156.23 L928.20,149.48 L928.35,143.89 L928.50,139.40 L928.65,135.91 L928.80,133.28 L928.95,131.36 L929.10,130.01 L929.25,129.07 L929.39,128.45 L929.54,128.05 L929.69,127.81 L929.84,127.66 L929.99,127.57 L930.14,127.52 L930.29,127.49 L930.44,127.47 L930.59,127.47 L930.74,127.46 L930.89,127.46 L931.04,127.46 L931.19,127.46 L931.51,127.46 L951.63,127.46 L971.75,127.46 L991.87,127.46 L1011.98,127.46 L1032.10,127.46 L1052.22,127.46 L1072.34,127.46 L1092.45,127.46 L1112.57,127.46 L1132.69,127.46 L1152.81,127.46 L1172.92,127.46 L1193.04,127.46 L1213.16,127.46 L1233.28,127.46 L1253.39,127.46 L1273.51,127.46 L1293.63,127.46 L1313.75,127.46 L1314.07,127.46 L1314.18,127.46 L1314.29,127.46 L1314.40,127.46 L1314.51,127.47 L1314.62,127.47 L1314.73,127.48 L1314.84,127.49 L1314.95,127.51 L1315.06,127.55 L1315.17,127.60 L1315.28,127.69 L1315.39,127.81 L1315.50,128.00 L1315.61,128.28 L1315.72,128.68 L1315.83,129.24 L1315.94,130.02 L1316.05,131.08 L1316.16,132.51 L1316.27,134.40 L1316.38,136.86 L1316.49,139.99 L1316.60,143.93 L1316.71,148.78 L1316.82,154.68 L1316.93,161.71 L1317.04,169.96 L1317.15,179.47 L1317.26,190.26 L1317.37,202.28 L1317.48,215.46 L1317.59,229.66 L1317.70,244.70 L1317.81,260.37 L1317.92,276.42 L1318.03,292.57 L1318.14,308.56 L1318.25,324.12 L1318.36,339.02 L1318.47,353.02 L1318.58,365.98 L1318.69,377.76 L1318.80,388.29 L1318.91,397.55 L1319.02,405.55 L1319.13,412.35 L1319.24,418.03 L1319.35,422.69 L1319.46,426.46 L1319.57,429.45 L1319.68,431.78 L1319.79,433.57 L1319.90,434.92 L1320.01,435.92 L1320.12,436.65 L1320.22,437.18 L1320.33,437.54 L1320.44,437.80 L1320.55,437.97" fill="none" stroke="#0000ff" stroke-width="2.6" stroke-linejoin="round"/></g>
<g fill="none" stroke="#000" stroke-width="1">
<rect x="924.5" y="111.5" width="396.0" height="327.0"/>
<path d="M924.5,400.5 h-4.9 M924.5,362.5 h-4.9 M924.5,324.5 h-4.9 M924.5,286.5 h-4.9 M924.5,248.5 h-4.9 M924.5,210.5 h-4.9 M924.5,172.5 h-4.9 M924.5,134.5 h-4.9 M927.5,438.5 v4.9 M992.5,438.5 v4.9 M1056.5,438.5 v4.9 M1121.5,438.5 v4.9 M1186.5,438.5 v4.9 M1251.5,438.5 v4.9 M1316.5,438.5 v4.9"/></g>
<g fill="#000">
<text x="916.2" y="405.5" text-anchor="end">0.5</text>
<text x="916.2" y="367.5" text-anchor="end">1.0</text>
<text x="916.2" y="329.5" text-anchor="end">1.5</text>
<text x="916.2" y="291.5" text-anchor="end">2.0</text>
<text x="916.2" y="253.5" text-anchor="end">2.5</text>
<text x="916.2" y="215.5" text-anchor="end">3.0</text>
<text x="916.2" y="177.5" text-anchor="end">3.5</text>
<text x="916.2" y="139.5" text-anchor="end">4.0</text>
<text x="927.3" y="458.1" text-anchor="middle">0</text>
<text x="992.1" y="458.1" text-anchor="middle">200</text>
<text x="1057.0" y="458.1" text-anchor="middle">400</text>
<text x="1121.8" y="458.1" text-anchor="middle">600</text>
<text x="1186.7" y="458.1" text-anchor="middle">800</text>
<text x="1251.5" y="458.1" text-anchor="middle">1000</text>
<text x="1316.3" y="458.1" text-anchor="middle">1200</text>
<text x="1122.5" y="481.5" text-anchor="middle">z<tspan dx="2">[Å]</tspan></text>
<text transform="translate(882.6,275.5) rotate(-90)" text-anchor="middle">SLD<tspan dx="2.5">[10</tspan><tspan font-size="9.7" dy="-5.3">−6</tspan><tspan dy="5.3">Å</tspan><tspan font-size="9.7" dy="-5.3" dx="1">−2</tspan><tspan dy="5.3">]</tspan></text>
<rect x="1220.3" y="117.1" width="95.6" height="30.2" rx="2.8" fill="#fff" fill-opacity="0.5" stroke="#ccc" stroke-opacity="0.8" stroke-width="1.1"/>
<path d="M1224,131.8 H1248" stroke="#0000ff" stroke-width="2.6"/>
<text font-size="11.1" x="1255.8" y="128.6">New Data</text><text font-size="11.1" x="1255.8" y="140.6">Re</text>
</g></svg>
<div class="" style="position:absolute;left:252px;top:528px;width:1099px;height:1px;background:#fff"></div><div class="" style="position:absolute;left:252px;top:528px;width:1px;height:275px;background:#fff"></div><div class="" style="position:absolute;left:253px;top:801px;width:1098px;height:1px;background:#a0a0a0"></div><div class="" style="position:absolute;left:252px;top:802px;width:1099px;height:1px;background:#696969"></div><div class="" style="position:absolute;left:1349px;top:529px;width:1px;height:273px;background:#a0a0a0"></div><div class="" style="position:absolute;left:1350px;top:528px;width:1px;height:275px;background:#696969"></div>
<div class="" style="position:absolute;left:252px;top:801px;width:52px;height:23px;background:#f0f0f0"></div><div class="" style="position:absolute;left:252px;top:801px;width:1px;height:22px;background:#fff"></div><div class="" style="position:absolute;left:253px;top:823px;width:50px;height:1px;background:#a0a0a0"></div><div class="" style="position:absolute;left:253px;top:824px;width:50px;height:1px;background:#696969"></div><div class="" style="position:absolute;left:302px;top:803px;width:1px;height:20px;background:#a0a0a0"></div><div class="" style="position:absolute;left:303px;top:802px;width:1px;height:21px;background:#696969"></div><div class="t " style="left:260.0px;top:809.14px;font-size:12px;line-height:12px;letter-spacing:-0.4px">Grid</div>
<div class="" style="position:absolute;left:304px;top:803px;width:1px;height:18px;background:#fff"></div><div class="" style="position:absolute;left:305px;top:821px;width:43px;height:1px;background:#a0a0a0"></div><div class="" style="position:absolute;left:305px;top:822px;width:43px;height:1px;background:#696969"></div><div class="" style="position:absolute;left:348px;top:803px;width:1px;height:18px;background:#a0a0a0"></div><div class="" style="position:absolute;left:349px;top:803px;width:1px;height:18px;background:#696969"></div><div class="t " style="left:308.3px;top:806.84px;font-size:12px;line-height:12px;letter-spacing:-0.35px">Script</div>
<div class="" style="position:absolute;left:351px;top:803px;width:1px;height:18px;background:#fff"></div><div class="" style="position:absolute;left:352px;top:821px;width:47px;height:1px;background:#a0a0a0"></div><div class="" style="position:absolute;left:352px;top:822px;width:47px;height:1px;background:#696969"></div><div class="" style="position:absolute;left:399px;top:803px;width:1px;height:18px;background:#a0a0a0"></div><div class="" style="position:absolute;left:400px;top:803px;width:1px;height:18px;background:#696969"></div><div class="t " style="left:355.3px;top:806.84px;font-size:12px;line-height:12px;letter-spacing:-0.35px">Sample</div>
<div class="" style="position:absolute;left:402px;top:803px;width:1px;height:18px;background:#fff"></div><div class="" style="position:absolute;left:403px;top:821px;width:70px;height:1px;background:#a0a0a0"></div><div class="" style="position:absolute;left:403px;top:822px;width:70px;height:1px;background:#696969"></div><div class="" style="position:absolute;left:473px;top:803px;width:1px;height:18px;background:#a0a0a0"></div><div class="" style="position:absolute;left:474px;top:803px;width:1px;height:18px;background:#696969"></div><div class="t " style="left:406.3px;top:806.84px;font-size:12px;line-height:12px;letter-spacing:-0.35px">Simulations</div>
<svg class="ic" style="left:260px;top:539px" width="18" height="18" viewBox="0 0 18 18"><defs><linearGradient id="g26" x1="0" y1="0" x2="1" y2="1"><stop offset="0" stop-color="#58d058"/><stop offset="1" stop-color="#158a15"/></linearGradient></defs><path d="M6,1 H11 V6 H16 V11 H11 V16 H6 V11 H1 V6 H6 z" fill="#000" opacity="0.55" transform="translate(0.9,1)"/><path d="M6,1 H11 V6 H16 V11 H11 V16 H6 V11 H1 V6 H6 z" fill="url(#g26)" stroke="#0c4a0c" stroke-width="0.8" stroke-linejoin="round"/></svg>
<svg class="ic" style="left:260px;top:565px" width="18" height="18" viewBox="0 0 18 18"><defs><linearGradient id="g27" x1="0" y1="0" x2="1" y2="1"><stop offset="0" stop-color="#f04040"/><stop offset="1" stop-color="#b01010"/></linearGradient></defs><path d="M4.6,0.8 L8.5,4.7 L12.4,0.8 L16.2,4.6 L12.3,8.5 L16.2,12.4 L12.4,16.2 L8.5,12.3 L4.6,16.2 L0.8,12.4 L4.7,8.5 L0.8,4.6 z" fill="#000" opacity="0.45" transform="translate(0.8,0.9)"/><path d="M4.6,0.8 L8.5,4.7 L12.4,0.8 L16.2,4.6 L12.3,8.5 L16.2,12.4 L12.4,16.2 L8.5,12.3 L4.6,16.2 L0.8,12.4 L4.7,8.5 L0.8,4.6 z" fill="url(#g27)" stroke="#7a0808" stroke-width="0.8" stroke-linejoin="round"/></svg>
<svg class="ic" style="left:260px;top:591px" width="18" height="18" viewBox="0 0 18 18"><defs><linearGradient id="g28" x1="0" y1="0" x2="1" y2="0"><stop offset="0" stop-color="#5a8cf0"/><stop offset="1" stop-color="#1a44c0"/></linearGradient></defs><path d="M9,1 L15,7.5 H11.8 V16 H6.2 V7.5 H3 z" fill="#000" opacity="0.45" transform="translate(0.8,0.8)"/><path d="M9,1 L15,7.5 H11.8 V16 H6.2 V7.5 H3 z" fill="url(#g28)" stroke="#0c2a80" stroke-width="0.7" stroke-linejoin="round"/></svg>
<svg class="ic" style="left:260px;top:617px" width="18" height="18" viewBox="0 0 18 18"><defs><linearGradient id="g29" x1="0" y1="0" x2="1" y2="0"><stop offset="0" stop-color="#5a8cf0"/><stop offset="1" stop-color="#1a44c0"/></linearGradient></defs><path d="M9,16 L15,9.5 H11.8 V1 H6.2 V9.5 H3 z" fill="#000" opacity="0.45" transform="translate(0.8,0.8)"/><path d="M9,16 L15,9.5 H11.8 V1 H6.2 V9.5 H3 z" fill="url(#g29)" stroke="#0c2a80" stroke-width="0.7" stroke-linejoin="round"/></svg>
<svg class="ic" style="left:259.4px;top:640.2px" width="20" height="20" viewBox="0 0 20 20"><defs><linearGradient id="g30" x1="0" y1="0" x2="1" y2="0"><stop offset="0" stop-color="#5a8cf0"/><stop offset="1" stop-color="#1a44c0"/></linearGradient></defs><text x="0.8" y="9.2" font-family="Liberation Sans, sans-serif" font-weight="bold" font-size="11.5" fill="#e01818" textLength="6.6" lengthAdjust="spacingAndGlyphs" style="filter:drop-shadow(0.8px 0.7px 0 rgba(0,0,0,.75))">A</text><text x="4" y="17.7" font-family="Liberation Sans, sans-serif" font-weight="bold" font-size="11.5" fill="#f4e810" stroke="#504800" stroke-width="0.3" textLength="6.2" lengthAdjust="spacingAndGlyphs" style="filter:drop-shadow(0.8px 0.7px 0 rgba(0,0,0,.8))">Z</text><path d="M14,17.2 L17.4,12 H15.3 V3.2 H12.7 V12 H10.6 z" fill="#000" opacity="0.45" transform="translate(0.7,0.7)"/><path d="M14,17.2 L17.4,12 H15.3 V3.2 H12.7 V12 H10.6 z" fill="url(#g30)" stroke="#123" stroke-width="0.4"/></svg>
<svg class="ic" style="left:259.4px;top:666.2px" width="20" height="20" viewBox="0 0 20 20"><defs><linearGradient id="g31" x1="0" y1="0" x2="1" y2="0"><stop offset="0" stop-color="#58d058"/><stop offset="1" stop-color="#158a15"/></linearGradient></defs><text x="0.8" y="9.2" font-family="Liberation Sans, sans-serif" font-weight="bold" font-size="11.5" fill="#e01818" textLength="6.6" lengthAdjust="spacingAndGlyphs" style="filter:drop-shadow(0.8px 0.7px 0 rgba(0,0,0,.75))">A</text><text x="4" y="17.7" font-family="Liberation Sans, sans-serif" font-weight="bold" font-size="11.5" fill="#f4e810" stroke="#504800" stroke-width="0.3" textLength="6.2" lengthAdjust="spacingAndGlyphs" style="filter:drop-shadow(0.8px 0.7px 0 rgba(0,0,0,.8))">Z</text><path d="M14,17.2 L17.4,12 H15.3 V3.2 H12.7 V12 H10.6 z" fill="#000" opacity="0.45" transform="translate(0.7,0.7)"/><path d="M14,17.2 L17.4,12 H15.3 V3.2 H12.7 V12 H10.6 z" fill="url(#g31)" stroke="#123" stroke-width="0.4"/></svg>
<div class="" style="position:absolute;left:258px;top:691px;width:27px;height:1px;background:#a0a0a0"></div>
<div class="" style="position:absolute;left:258px;top:692px;width:27px;height:1px;background:#fff"></div>
<svg class="ic" style="left:259.2px;top:701.3px" width="20" height="20" viewBox="0 0 20 20"><defs><radialGradient id="g32" cx="0.36" cy="0.3" r="0.7"><stop offset="0" stop-color="#ff8a8a"/><stop offset="1" stop-color="#dc0000"/></radialGradient></defs><rect x="1.2" y="6.6" width="17.6" height="3.8" rx="1.6" fill="#000" opacity="0.4" transform="translate(0.6,0.8)"/><rect x="1.2" y="6.6" width="17.6" height="3.8" rx="1.6" fill="#2a5ae0" stroke="#0a1a70" stroke-width="0.5"/><circle cx="10" cy="8.3" r="4.9" fill="url(#g32)" stroke="#600" stroke-width="0.6"/></svg>
<svg class="ic" style="left:259px;top:726px" width="19.2" height="19.8" viewBox="0 0 19.2 19.8"><defs><radialGradient id="g33" cx="0.36" cy="0.3" r="0.7"><stop offset="0" stop-color="#ff8a8a"/><stop offset="1" stop-color="#dc0000"/></radialGradient></defs><g transform="scale(0.6)"><text x="0.9" y="19.6" font-family="Liberation Sans, sans-serif" font-size="25.5" fill="#1aa81a" stroke="#1aa81a" stroke-width="0.55" style="filter:drop-shadow(-0.9px 1px 0 rgba(0,0,0,.55))">P</text><circle cx="15.5" cy="5" r="1.7" fill="#2a56c8" stroke="#0c1c58" stroke-width="0.5"/><circle cx="20" cy="7.5" r="1.7" fill="#2a56c8" stroke="#0c1c58" stroke-width="0.5"/><circle cx="24" cy="4.5" r="1.7" fill="#2a56c8" stroke="#0c1c58" stroke-width="0.5"/><circle cx="9" cy="7.5" r="1.7" fill="#2a56c8" stroke="#0c1c58" stroke-width="0.5"/><circle cx="14.5" cy="10" r="1.7" fill="#2a56c8" stroke="#0c1c58" stroke-width="0.5"/><circle cx="19" cy="12" r="1.7" fill="#2a56c8" stroke="#0c1c58" stroke-width="0.5"/><circle cx="25.5" cy="12.5" r="1.7" fill="#2a56c8" stroke="#0c1c58" stroke-width="0.5"/><circle cx="11" cy="14.5" r="1.7" fill="#2a56c8" stroke="#0c1c58" stroke-width="0.5"/><circle cx="16" cy="14" r="1.7" fill="#2a56c8" stroke="#0c1c58" stroke-width="0.5"/><circle cx="21" cy="15.5" r="1.7" fill="#2a56c8" stroke="#0c1c58" stroke-width="0.5"/><circle cx="13.5" cy="21" r="1.7" fill="#2a56c8" stroke="#0c1c58" stroke-width="0.5"/><circle cx="20.5" cy="22" r="1.7" fill="#2a56c8" stroke="#0c1c58" stroke-width="0.5"/><circle cx="17" cy="19.5" r="1.7" fill="#2a56c8" stroke="#0c1c58" stroke-width="0.5"/><path d="M6,18.4 H28" stroke="#300" stroke-width="2.2"/><path d="M6,18.1 H28" stroke="#e01818" stroke-width="1.3"/><circle cx="16.6" cy="25.6" r="3.1" fill="url(#g33)" stroke="#600" stroke-width="0.6"/></g></svg>
<svg class="ic" style="left:259px;top:752px" width="20" height="21" viewBox="0 0 20 21"><defs><radialGradient id="g34" cx="0.36" cy="0.3" r="0.7"><stop offset="0" stop-color="#ff8a8a"/><stop offset="1" stop-color="#dc0000"/></radialGradient></defs><text x="0.3" y="11.8" font-family="Liberation Sans, sans-serif" font-weight="bold" font-size="15" fill="#18a018" stroke="#0a500a" stroke-width="0.4" style="filter:drop-shadow(0.7px 0.7px 0 rgba(0,0,0,.5))">S</text><path d="M8,12.3 H17" stroke="#d01010" stroke-width="1.4"/><path d="M1.5,12.8 H10" stroke="#063" stroke-width="1.2"/><path d="M17,5 V13 Q14,19 11,16" fill="none" stroke="#111" stroke-width="1.2"/><circle cx="10.5" cy="17" r="2.6" fill="url(#g34)" stroke="#600" stroke-width="0.6"/></svg>
<div class="" style="position:absolute;left:337px;top:532px;width:1010px;height:269px;background:#fff"></div>
<div class="" style="position:absolute;left:256px;top:531px;width:1085px;height:1px;background:#a0a0a0"></div>
<div class="" style="position:absolute;left:256px;top:532px;width:1084px;height:1px;background:#fff"></div>
<div class="" style="position:absolute;left:287px;top:531px;width:1px;height:222px;background:#a0a0a0"></div>
<div class="" style="position:absolute;left:288px;top:533px;width:1052px;height:29px;background:#f0f0f0"></div>
<div class="" style="position:absolute;left:288px;top:562px;width:1053px;height:1px;background:#a0a0a0"></div>
<div class="" style="position:absolute;left:336px;top:532px;width:1px;height:31px;background:#a0a0a0"></div>
<div class="" style="position:absolute;left:288px;top:532px;width:1px;height:30px;background:#fff"></div>
<div class="" style="position:absolute;left:532px;top:532px;width:1px;height:31px;background:#a0a0a0"></div>
<div class="" style="position:absolute;left:337px;top:532px;width:1px;height:30px;background:#fff"></div>
<div class="t b c" style="left:337.0px;top:541.14px;font-size:12px;line-height:12px;width:195.0px;">Parameter</div>
<div class="" style="position:absolute;left:728px;top:532px;width:1px;height:31px;background:#a0a0a0"></div>
<div class="" style="position:absolute;left:533px;top:532px;width:1px;height:30px;background:#fff"></div>
<div class="t b c" style="left:533.0px;top:541.14px;font-size:12px;line-height:12px;width:195.0px;">Value</div>
<div class="" style="position:absolute;left:752px;top:532px;width:1px;height:31px;background:#a0a0a0"></div>
<div class="" style="position:absolute;left:729px;top:532px;width:1px;height:30px;background:#fff"></div>
<div class="t b c" style="left:729.0px;top:541.14px;font-size:12px;line-height:12px;width:23.0px;">Fit</div>
<div class="" style="position:absolute;left:948px;top:532px;width:1px;height:31px;background:#a0a0a0"></div>
<div class="" style="position:absolute;left:753px;top:532px;width:1px;height:30px;background:#fff"></div>
<div class="t b c" style="left:753.0px;top:541.14px;font-size:12px;line-height:12px;width:195.0px;">Min</div>
<div class="" style="position:absolute;left:1144px;top:532px;width:1px;height:31px;background:#a0a0a0"></div>
<div class="" style="position:absolute;left:949px;top:532px;width:1px;height:30px;background:#fff"></div>
<div class="t b c" style="left:949.0px;top:541.14px;font-size:12px;line-height:12px;width:195.0px;">Max</div>
<div class="" style="position:absolute;left:1340px;top:532px;width:1px;height:31px;background:#a0a0a0"></div>
<div class="" style="position:absolute;left:1145px;top:532px;width:1px;height:30px;background:#fff"></div>
<div class="t b c" style="left:1145.0px;top:541.14px;font-size:12px;line-height:12px;width:195.0px;">Error</div>
<div class="" style="position:absolute;left:288px;top:563px;width:48px;height:190px;background:#f0f0f0"></div>
<div class="" style="position:absolute;left:288px;top:581px;width:49px;height:1px;background:#a0a0a0"></div>
<div class="" style="position:absolute;left:336px;top:563px;width:1px;height:19px;background:#a0a0a0"></div>
<div class="" style="position:absolute;left:288px;top:563px;width:48px;height:1px;background:#fff"></div>
<div class="" style="position:absolute;left:288px;top:563px;width:1px;height:18px;background:#fff"></div>
<div class="t b c" style="left:288.0px;top:567.14px;font-size:12px;line-height:12px;width:48.0px;">0</div>
<div class="" style="position:absolute;left:337px;top:581px;width:1004px;height:1px;background:#eeeeee"></div>
<div class="" style="position:absolute;left:533px;top:563px;width:98px;height:18px;background:#efefef"></div>
<div class="t " style="left:339.0px;top:567.04px;font-size:12px;line-height:12px;letter-spacing:-0.25px">SiO.setD</div>
<div class="t r" style="left:533.0px;top:567.04px;font-size:12px;line-height:12px;width:193.6px;letter-spacing:-0.6px">1205</div>
<div class="t r" style="left:753.0px;top:567.04px;font-size:12px;line-height:12px;width:193.6px;letter-spacing:-0.6px">903.75</div>
<div class="t r" style="left:949.0px;top:567.04px;font-size:12px;line-height:12px;width:193.6px;letter-spacing:-0.6px">1506.25</div>
<div class="t " style="left:1148.0px;top:567.04px;font-size:12px;line-height:12px;">-</div>
<svg class="ic" style="left:731px;top:565px" width="13" height="13"><rect x="0.5" y="0.5" width="12" height="12" fill="#fff" stroke="#333"/><path d="M3,6.5 L5.5,9 L10,3.5" fill="none" stroke="#222" stroke-width="1.1"/></svg>
<div class="" style="position:absolute;left:288px;top:600px;width:49px;height:1px;background:#a0a0a0"></div>
<div class="" style="position:absolute;left:336px;top:582px;width:1px;height:19px;background:#a0a0a0"></div>
<div class="" style="position:absolute;left:288px;top:582px;width:48px;height:1px;background:#fff"></div>
<div class="" style="position:absolute;left:288px;top:582px;width:1px;height:18px;background:#fff"></div>
<div class="t b c" style="left:288.0px;top:586.14px;font-size:12px;line-height:12px;width:48.0px;">1</div>
<div class="" style="position:absolute;left:337px;top:600px;width:1004px;height:1px;background:#eeeeee"></div>
<div class="" style="position:absolute;left:533px;top:582px;width:98px;height:18px;background:#efefef"></div>
<div class="t " style="left:339.0px;top:586.04px;font-size:12px;line-height:12px;letter-spacing:-0.25px">SiO.setDens</div>
<div class="t r" style="left:533.0px;top:586.04px;font-size:12px;line-height:12px;width:193.6px;letter-spacing:-0.6px">0.026</div>
<div class="t r" style="left:753.0px;top:586.04px;font-size:12px;line-height:12px;width:193.6px;letter-spacing:-0.6px">0.023</div>
<div class="t r" style="left:949.0px;top:586.04px;font-size:12px;line-height:12px;width:193.6px;letter-spacing:-0.6px">0.029</div>
<div class="t " style="left:1148.0px;top:586.04px;font-size:12px;line-height:12px;">-</div>
<svg class="ic" style="left:731px;top:584px" width="13" height="13"><rect x="0.5" y="0.5" width="12" height="12" fill="#fff" stroke="#333"/><path d="M3,6.5 L5.5,9 L10,3.5" fill="none" stroke="#222" stroke-width="1.1"/></svg>
<div class="" style="position:absolute;left:288px;top:619px;width:49px;height:1px;background:#a0a0a0"></div>
<div class="" style="position:absolute;left:336px;top:601px;width:1px;height:19px;background:#a0a0a0"></div>
<div class="" style="position:absolute;left:288px;top:601px;width:48px;height:1px;background:#fff"></div>
<div class="" style="position:absolute;left:288px;top:601px;width:1px;height:18px;background:#fff"></div>
<div class="t b c" style="left:288.0px;top:605.14px;font-size:12px;line-height:12px;width:48.0px;">2</div>
<div class="" style="position:absolute;left:337px;top:619px;width:1004px;height:1px;background:#eeeeee"></div>
<div class="" style="position:absolute;left:533px;top:601px;width:76px;height:18px;background:#efefef"></div>
<div class="t " style="left:339.0px;top:605.04px;font-size:12px;line-height:12px;letter-spacing:-0.25px">SiO.setSigma</div>
<div class="t r" style="left:533.0px;top:605.04px;font-size:12px;line-height:12px;width:193.6px;letter-spacing:-0.6px">2</div>
<div class="t r" style="left:753.0px;top:605.04px;font-size:12px;line-height:12px;width:193.6px;letter-spacing:-0.6px">0.1</div>
<div class="t r" style="left:949.0px;top:605.04px;font-size:12px;line-height:12px;width:193.6px;letter-spacing:-0.6px">5</div>
<div class="t " style="left:1148.0px;top:605.04px;font-size:12px;line-height:12px;">-</div>
<svg class="ic" style="left:731px;top:603px" width="13" height="13"><rect x="0.5" y="0.5" width="12" height="12" fill="#fff" stroke="#333"/><path d="M3,6.5 L5.5,9 L10,3.5" fill="none" stroke="#222" stroke-width="1.1"/></svg>
<div class="" style="position:absolute;left:288px;top:638px;width:49px;height:1px;background:#a0a0a0"></div>
<div class="" style="position:absolute;left:336px;top:620px;width:1px;height:19px;background:#a0a0a0"></div>
<div class="" style="position:absolute;left:288px;top:620px;width:48px;height:1px;background:#fff"></div>
<div class="" style="position:absolute;left:288px;top:620px;width:1px;height:18px;background:#fff"></div>
<div class="t b c" style="left:288.0px;top:624.14px;font-size:12px;line-height:12px;width:48.0px;">3</div>
<div class="" style="position:absolute;left:337px;top:638px;width:1004px;height:1px;background:#eeeeee"></div>
<div class="" style="position:absolute;left:533px;top:620px;width:37px;height:18px;background:#efefef"></div>
<div class="t " style="left:339.0px;top:624.04px;font-size:12px;line-height:12px;letter-spacing:-0.25px">Sub.setSigma</div>
<div class="t r" style="left:533.0px;top:624.04px;font-size:12px;line-height:12px;width:193.6px;letter-spacing:-0.6px">2</div>
<div class="t r" style="left:753.0px;top:624.04px;font-size:12px;line-height:12px;width:193.6px;letter-spacing:-0.6px">0.1</div>
<div class="t r" style="left:949.0px;top:624.04px;font-size:12px;line-height:12px;width:193.6px;letter-spacing:-0.6px">10</div>
<div class="t " style="left:1148.0px;top:624.04px;font-size:12px;line-height:12px;">-</div>
<svg class="ic" style="left:731px;top:622px" width="13" height="13"><rect x="0.5" y="0.5" width="12" height="12" fill="#fff" stroke="#333"/><path d="M3,6.5 L5.5,9 L10,3.5" fill="none" stroke="#222" stroke-width="1.1"/></svg>
<div class="" style="position:absolute;left:288px;top:657px;width:49px;height:1px;background:#a0a0a0"></div>
<div class="" style="position:absolute;left:336px;top:639px;width:1px;height:19px;background:#a0a0a0"></div>
<div class="" style="position:absolute;left:288px;top:639px;width:48px;height:1px;background:#fff"></div>
<div class="" style="position:absolute;left:288px;top:639px;width:1px;height:18px;background:#fff"></div>
<div class="t b c" style="left:288.0px;top:643.14px;font-size:12px;line-height:12px;width:48.0px;">4</div>
<div class="" style="position:absolute;left:337px;top:657px;width:1004px;height:1px;background:#eeeeee"></div>
<div class="" style="position:absolute;left:533px;top:639px;width:28px;height:18px;background:#efefef"></div>
<div class="t " style="left:339.0px;top:643.04px;font-size:12px;line-height:12px;letter-spacing:-0.25px">inst.setI0</div>
<div class="t r" style="left:533.0px;top:643.04px;font-size:12px;line-height:12px;width:193.6px;letter-spacing:-0.6px">2</div>
<div class="t r" style="left:753.0px;top:643.04px;font-size:12px;line-height:12px;width:193.6px;letter-spacing:-0.6px">1</div>
<div class="t r" style="left:949.0px;top:643.04px;font-size:12px;line-height:12px;width:193.6px;letter-spacing:-0.6px">8</div>
<div class="t " style="left:1148.0px;top:643.04px;font-size:12px;line-height:12px;">-</div>
<svg class="ic" style="left:731px;top:641px" width="13" height="13"><rect x="0.5" y="0.5" width="12" height="12" fill="#fff" stroke="#333"/><path d="M3,6.5 L5.5,9 L10,3.5" fill="none" stroke="#222" stroke-width="1.1"/></svg>
<div class="" style="position:absolute;left:288px;top:676px;width:49px;height:1px;background:#a0a0a0"></div>
<div class="" style="position:absolute;left:336px;top:658px;width:1px;height:19px;background:#a0a0a0"></div>
<div class="" style="position:absolute;left:288px;top:658px;width:48px;height:1px;background:#fff"></div>
<div class="" style="position:absolute;left:288px;top:658px;width:1px;height:18px;background:#fff"></div>
<div class="t b c" style="left:288.0px;top:662.14px;font-size:12px;line-height:12px;width:48.0px;">5</div>
<div class="" style="position:absolute;left:337px;top:676px;width:1004px;height:1px;background:#eeeeee"></div>
<div class="t " style="left:339.0px;top:662.04px;font-size:12px;line-height:12px;letter-spacing:-0.25px">inst.setIbkg</div>
<div class="t r" style="left:533.0px;top:662.04px;font-size:12px;line-height:12px;width:193.6px;letter-spacing:-0.6px">0</div>
<div class="t r" style="left:753.0px;top:662.04px;font-size:12px;line-height:12px;width:193.6px;letter-spacing:-0.6px">0</div>
<div class="t r" style="left:949.0px;top:662.04px;font-size:12px;line-height:12px;width:193.6px;letter-spacing:-0.6px">1e-05</div>
<div class="t " style="left:1148.0px;top:662.04px;font-size:12px;line-height:12px;">-</div>
<svg class="ic" style="left:731px;top:660px" width="13" height="13"><rect x="0.5" y="0.5" width="12" height="12" fill="#fff" stroke="#333"/><path d="M3,6.5 L5.5,9 L10,3.5" fill="none" stroke="#222" stroke-width="1.1"/></svg>
<div class="" style="position:absolute;left:288px;top:695px;width:49px;height:1px;background:#a0a0a0"></div>
<div class="" style="position:absolute;left:336px;top:677px;width:1px;height:19px;background:#a0a0a0"></div>
<div class="" style="position:absolute;left:288px;top:677px;width:48px;height:1px;background:#fff"></div>
<div class="" style="position:absolute;left:288px;top:677px;width:1px;height:18px;background:#fff"></div>
<div class="t b c" style="left:288.0px;top:681.14px;font-size:12px;line-height:12px;width:48.0px;">6</div>
<div class="" style="position:absolute;left:337px;top:695px;width:1004px;height:1px;background:#eeeeee"></div>
<div class="" style="position:absolute;left:533px;top:677px;width:28px;height:18px;background:#efefef"></div>
<div class="t " style="left:339.0px;top:681.04px;font-size:12px;line-height:12px;letter-spacing:-0.25px">inst.setRes</div>
<div class="t r" style="left:533.0px;top:681.04px;font-size:12px;line-height:12px;width:193.6px;letter-spacing:-0.6px">0.03</div>
<div class="t r" style="left:753.0px;top:681.04px;font-size:12px;line-height:12px;width:193.6px;letter-spacing:-0.6px">0.025</div>
<div class="t r" style="left:949.0px;top:681.04px;font-size:12px;line-height:12px;width:193.6px;letter-spacing:-0.6px">0.06</div>
<div class="t " style="left:1148.0px;top:681.04px;font-size:12px;line-height:12px;">-</div>
<svg class="ic" style="left:731px;top:679px" width="13" height="13"><rect x="0.5" y="0.5" width="12" height="12" fill="#fff" stroke="#333"/><path d="M3,6.5 L5.5,9 L10,3.5" fill="none" stroke="#222" stroke-width="1.1"/></svg>
<div class="" style="position:absolute;left:288px;top:714px;width:49px;height:1px;background:#a0a0a0"></div>
<div class="" style="position:absolute;left:336px;top:696px;width:1px;height:19px;background:#a0a0a0"></div>
<div class="" style="position:absolute;left:288px;top:696px;width:48px;height:1px;background:#fff"></div>
<div class="" style="position:absolute;left:288px;top:696px;width:1px;height:18px;background:#fff"></div>
<div class="t b c" style="left:288.0px;top:700.14px;font-size:12px;line-height:12px;width:48.0px;">7</div>
<div class="" style="position:absolute;left:337px;top:714px;width:1004px;height:1px;background:#eeeeee"></div>
<div class="" style="position:absolute;left:533px;top:696px;width:28px;height:18px;background:#efefef"></div>
<div class="t " style="left:339.0px;top:700.04px;font-size:12px;line-height:12px;letter-spacing:-0.25px">inst.setBeamw</div>
<div class="t r" style="left:533.0px;top:700.04px;font-size:12px;line-height:12px;width:193.6px;letter-spacing:-0.6px">0.2</div>
<div class="t r" style="left:753.0px;top:700.04px;font-size:12px;line-height:12px;width:193.6px;letter-spacing:-0.6px">0.1</div>
<div class="t r" style="left:949.0px;top:700.04px;font-size:12px;line-height:12px;width:193.6px;letter-spacing:-0.6px">0.8</div>
<div class="t " style="left:1148.0px;top:700.04px;font-size:12px;line-height:12px;">-</div>
<svg class="ic" style="left:731px;top:698px" width="13" height="13"><rect x="0.5" y="0.5" width="12" height="12" fill="#fff" stroke="#333"/><path d="M3,6.5 L5.5,9 L10,3.5" fill="none" stroke="#222" stroke-width="1.1"/></svg>
<div class="" style="position:absolute;left:288px;top:733px;width:49px;height:1px;background:#a0a0a0"></div>
<div class="" style="position:absolute;left:336px;top:715px;width:1px;height:19px;background:#a0a0a0"></div>
<div class="" style="position:absolute;left:288px;top:715px;width:48px;height:1px;background:#fff"></div>
<div class="" style="position:absolute;left:288px;top:715px;width:1px;height:18px;background:#fff"></div>
<div class="t b c" style="left:288.0px;top:719.14px;font-size:12px;line-height:12px;width:48.0px;">8</div>
<div class="" style="position:absolute;left:337px;top:733px;width:1004px;height:1px;background:#eeeeee"></div>
<div class="" style="position:absolute;left:533px;top:715px;width:98px;height:18px;background:#efefef"></div>
<div class="t " style="left:339.0px;top:719.04px;font-size:12px;line-height:12px;letter-spacing:-0.25px">inst.setTthoff</div>
<div class="t r" style="left:533.0px;top:719.04px;font-size:12px;line-height:12px;width:193.6px;letter-spacing:-0.6px">0</div>
<div class="t r" style="left:753.0px;top:719.04px;font-size:12px;line-height:12px;width:193.6px;letter-spacing:-0.6px">-0.05</div>
<div class="t r" style="left:949.0px;top:719.04px;font-size:12px;line-height:12px;width:193.6px;letter-spacing:-0.6px">0.05</div>
<div class="t " style="left:1148.0px;top:719.04px;font-size:12px;line-height:12px;">-</div>
<svg class="ic" style="left:731px;top:717px" width="13" height="13"><rect x="0.5" y="0.5" width="12" height="12" fill="#fff" stroke="#333"/><path d="M3,6.5 L5.5,9 L10,3.5" fill="none" stroke="#222" stroke-width="1.1"/></svg>
<div class="" style="position:absolute;left:288px;top:752px;width:49px;height:1px;background:#a0a0a0"></div>
<div class="" style="position:absolute;left:336px;top:734px;width:1px;height:19px;background:#a0a0a0"></div>
<div class="" style="position:absolute;left:288px;top:734px;width:48px;height:1px;background:#fff"></div>
<div class="" style="position:absolute;left:288px;top:734px;width:1px;height:18px;background:#fff"></div>
<div class="t b c" style="left:288.0px;top:738.14px;font-size:12px;line-height:12px;width:48.0px;">-</div>
<div class="" style="position:absolute;left:337px;top:752px;width:1004px;height:1px;background:#eeeeee"></div>
<svg class="ic" style="left:731px;top:736px" width="13" height="13"><rect x="0.5" y="0.5" width="12" height="12" fill="#fff" stroke="#333"/></svg>
<div class="" style="position:absolute;left:532px;top:563px;width:1px;height:190px;background:#eeeeee"></div>
<div class="" style="position:absolute;left:728px;top:563px;width:1px;height:190px;background:#eeeeee"></div>
<div class="" style="position:absolute;left:752px;top:563px;width:1px;height:190px;background:#eeeeee"></div>
<div class="" style="position:absolute;left:948px;top:563px;width:1px;height:190px;background:#eeeeee"></div>
<div class="" style="position:absolute;left:1144px;top:563px;width:1px;height:190px;background:#eeeeee"></div>
<div class="" style="position:absolute;left:1340px;top:563px;width:1px;height:190px;background:#eeeeee"></div>
<div class="" style="position:absolute;left:1347px;top:532px;width:2px;height:269px;background:#f0f0f0"></div>
<div class="" style="position:absolute;left:1px;top:825px;width:1350px;height:1px;background:#d7d7d7"></div>
<div class="" style="position:absolute;left:381px;top:828px;width:1px;height:19px;background:#d7d7d7"></div>
<div class="" style="position:absolute;left:950px;top:828px;width:1px;height:19px;background:#d7d7d7"></div>
<div class="t " style="left:3.2px;top:832.34px;font-size:12px;line-height:12px;letter-spacing:-0.06px">Success in simulating the model.</div>
<div class="t " style="left:387.0px;top:832.34px;font-size:12px;line-height:12px;letter-spacing:-0.12px">Simulation Sucessful</div>
<div class="t " style="left:955.0px;top:832.54px;font-size:12px;line-height:12px;">x,y</div>
<svg class="ic" style="left:1338px;top:836px" width="12" height="12"><g fill="#a0a0a0"><rect x="8" y="2" width="2" height="2"/><rect x="5" y="5" width="2" height="2"/><rect x="8" y="5" width="2" height="2"/><rect x="2" y="8" width="2" height="2"/><rect x="5" y="8" width="2" height="2"/><rect x="8" y="8" width="2" height="2"/></g></svg>
<div class="" style="position:absolute;left:0px;top:0px;width:1352px;height:849px;border:1px solid #6d6d6d;box-sizing:border-box;pointer-events:none"></div>
</body></html>
